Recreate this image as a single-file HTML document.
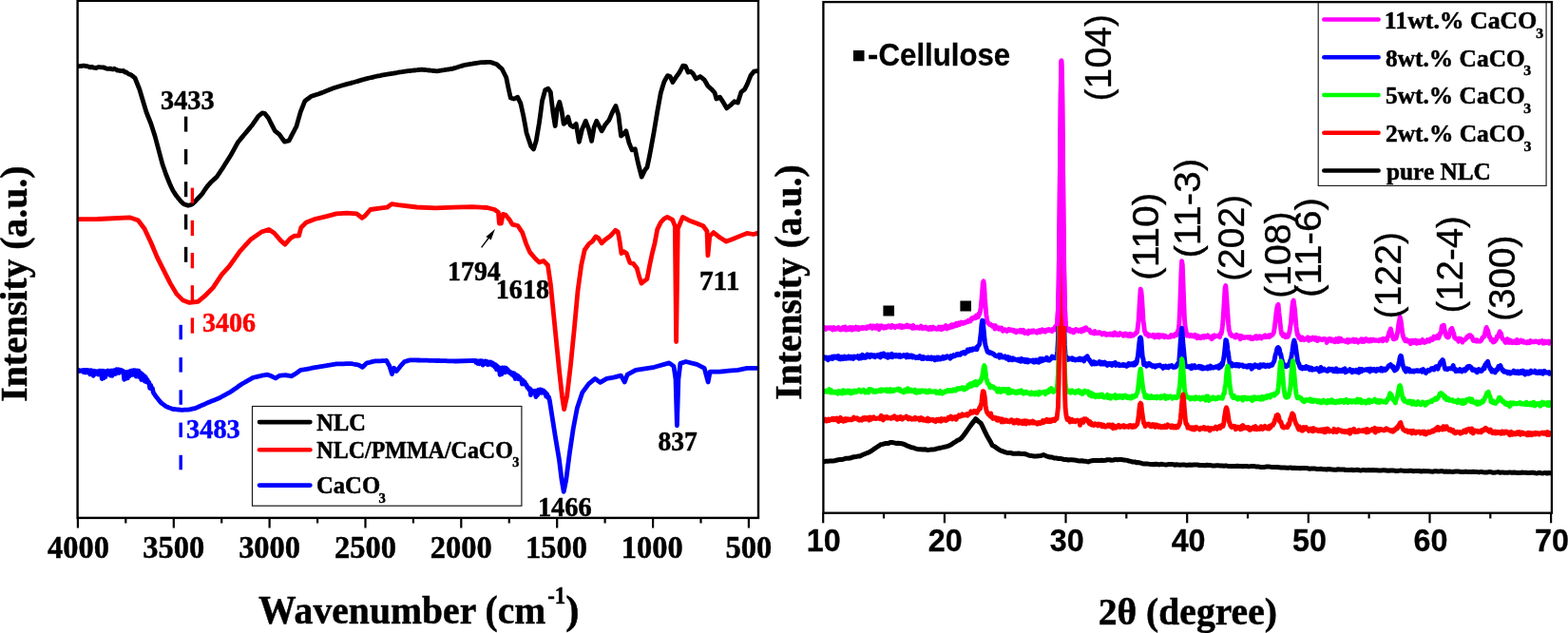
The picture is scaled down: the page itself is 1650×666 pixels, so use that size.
<!DOCTYPE html>
<html><head><meta charset="utf-8"><title>FTIR and XRD</title>
<style>html,body{margin:0;padding:0;background:#fff;}svg{display:block;}</style>
</head><body>
<svg width="1650" height="666" viewBox="0 0 1650 666">
<rect width="1650" height="666" fill="#fff"/>
<defs><clipPath id="cl"><rect x="82" y="1" width="715" height="543"/></clipPath><clipPath id="cr"><rect x="867" y="1" width="765" height="538"/></clipPath><clipPath id="c104"><rect x="1100" y="1" width="35" height="342"/></clipPath></defs>
<g clip-path="url(#cl)" fill="none" stroke-width="4.8" stroke-linejoin="round" stroke-linecap="round">
<polyline stroke="#000" points="83,69.6 84.5,69.7 86,69.5 87.5,69.1 89,69.2 90.5,69.6 92,69.7 93.6,70.4 95.2,70.9 96.8,70.3 98.4,71.2 100,71.4 101.6,71.5 103.1,70.7 104.7,70.7 106.3,70.8 107.9,70.8 109.4,71 111,71.7 112.6,72.3 114.1,72.4 115.7,72.1 117.3,72.6 118.9,73 120.4,72.2 122,73.2 123.6,74 125.2,74.2 126.8,74.6 128.4,74.6 130,74.5 131.5,76 133,76 134.5,77.3 136,78.2 137.5,78.5 139,79.6 140.5,80.9 142,82 143.6,86 145.2,90 146.8,94 148.6,100 150.4,106 152.2,112 154,118 155.6,122 157.2,126 158.8,130 160.9,136.5 163,143 165,150.5 167,158 169,165.5 171,173 172.8,178 174.5,183 176.5,188 178.5,193 180.2,196.8 182,200.5 184,203.6 186,206.6 188,209.1 190,211.5 191.8,213.2 193.5,214.8 195,215.3 196.5,215.8 198,216.3 200,215.7 202,215 203.8,213.4 205.5,211.8 207.2,209.9 209,208 211,205.8 213,203.6 214.5,201.3 216,199 217.5,197 219,195 220.5,193.3 222,191.6 223.5,190.3 225,188.9 226.5,187.6 228,186.3 229.5,184 231,181.8 232.5,179.5 234,177.3 235.5,175 237,172.6 238.5,170.2 240,167.8 241.5,165.4 243,163 244.5,160.3 246,157.6 247.5,154.9 249,152.2 250.5,149.5 252,147.7 253.5,145.9 255,144.1 256.5,142.3 258,140.5 259.5,138.7 261,136.9 262.5,135.1 264,133.3 265.5,131.5 267,129.2 268.6,127 270.1,124.8 271.6,122.5 273.8,120.7 276,118.8 278.5,119.3 280.5,121.8 282.5,124.3 284.2,127.7 285.9,131.1 287.6,134.4 289.3,137.8 290.8,138.9 292.3,140.1 293.8,141.2 295.7,143.8 297.5,146.5 299.4,149.1 300.9,148.7 302.5,148.4 304,148 305.6,145.1 307.1,142.1 308.7,139.2 310.2,136.2 311.8,133.3 313.3,128.1 314.8,122.8 316.3,117.6 317.8,113.8 319.3,110.1 320.8,106.3 322.5,105 324.2,103.8 325.9,102.5 327.6,101.3 329.2,100.8 330.8,100.2 332.4,99.7 334,99.2 335.6,98.7 337.2,98.1 338.8,97.6 340.4,96.9 342,96.3 343.6,95.6 345.2,95 346.8,94.3 348.4,93.7 350,93 351.6,92.5 353.2,92 354.8,91.5 356.5,91 358.1,90.5 359.7,90 361.3,89.5 362.9,89.1 364.5,88.6 366.1,88.2 367.8,87.8 369.4,87.4 371,86.9 372.6,86.5 374.2,86 375.8,85.6 377.4,85.1 379.1,84.6 380.7,84.1 382.3,83.7 383.9,83.2 385.5,82.8 387.1,82.4 388.7,82 390.4,81.7 392,81.3 393.6,80.9 395.2,80.5 396.8,80.2 398.4,79.9 400,79.6 401.6,79.2 403.2,78.9 404.8,78.6 406.4,78.3 408,78 409.6,77.8 411.2,77.5 412.9,77.3 414.5,77 416.1,76.8 417.7,76.5 419.4,76.2 421.1,75.9 422.9,75.7 424.6,75.4 426.3,75.1 428,74.8 429.6,74.6 431.2,74.5 432.7,74.3 434.3,74.2 435.9,74 437.5,73.8 439.1,73.7 440.6,73.5 442.2,73.4 443.8,73.2 445.4,73.4 447,73.5 448.5,73.7 450.1,73.8 451.7,74 453.3,74.2 454.9,74.3 456.4,74.5 458,74.6 459.6,74.8 461.2,74.6 462.7,74.3 464.3,74.1 465.9,73.9 467.5,73.7 469,73.4 470.6,73.2 472.2,73 473.7,72.7 475.3,72.5 476.8,72.1 478.3,71.6 479.8,71.2 481.3,70.7 482.8,70.3 484.3,69.8 485.8,69.4 487.3,68.9 488.8,68.5 490.4,68.2 492,68 493.5,67.7 495.1,67.4 496.7,67.2 498.3,66.9 499.9,66.6 501.4,66.3 503,66.1 504.6,65.8 506.2,65.7 507.8,65.7 509.4,65.6 511.1,65.5 512.7,65.4 514.3,65.4 515.9,65.3 517.6,65.9 519.2,66.4 520.9,67 522.6,67.6 524.5,69.2 526.3,70.9 528.2,72.5 529.7,75.5 531.2,78.5 532.7,81.5 535,92.8 537.3,103 539,103.5 540.6,104 542.7,103.2 544.7,102.3 546.2,105.4 547.8,108.6 549.3,115.3 550.8,122 552.5,131 554.1,140 555.6,144.5 557.1,149.1 558.6,153.6 561.5,157 564.2,148.3 565.8,138.9 567.4,129.4 569,117.8 570.5,106.2 572.1,100.5 573.7,94.7 575.2,94 576.8,93.2 579.3,96.8 582,118.9 584.2,132.5 586.3,114.7 588.8,107.3 591.1,116.8 593.2,130.4 595.7,128.3 597.8,123 600,131.5 601.5,132.6 603,133.6 604.6,132 606.2,130.4 607.8,139.9 609.4,149.3 611,142.5 612.6,135.7 614.5,131.5 616.3,127.3 617.9,131.5 619.5,135.7 621,142 622.6,148.3 625.2,133.6 627.7,127.3 630.4,132.5 633.2,137.8 635,134.7 636.7,131.5 638.9,128.8 641,126.2 642.5,122.6 644.1,118.9 646,115.2 647.9,111.5 650.8,121 653.5,143 656.3,140.9 658.8,137.8 660.4,144.1 662,150.4 663.5,154.1 665.1,157.8 666.7,157.2 668.3,156.7 669.8,164.1 671.4,171.4 673.3,178.8 675.2,186.1 677,182.4 678.8,178.8 681,176 682.8,167.4 684.5,158.9 686.3,149 688.1,139.1 689.9,128.3 691.7,117.5 693.5,107.6 695.3,97.7 697.1,91.8 698.9,86 700.7,82.8 702.5,79.6 705.2,80.5 707.9,86.5 710.6,82.3 712.1,80.2 713.6,78.1 715.1,76 716.9,72.6 718.7,69.2 721.4,69.7 724.1,76 726.8,75.1 729.5,77.8 732.3,82.9 733.8,82.1 735.3,81.3 736.8,80.5 738.3,81.7 739.8,82.9 741.3,84.1 743.1,87.3 744.9,90.5 746.7,92.1 748.5,93.7 750.3,95.7 752.1,97.7 753.9,104 755.7,103.1 757.5,102.2 759.3,104.9 761.1,107.6 762.9,110.8 764.7,113.9 766.2,112.7 767.7,111.5 769.2,110.3 771,108.5 772.8,106.7 774.6,107.4 776.4,108.1 778.2,102.4 780,96.8 781.8,95.4 783.6,94 786.3,88.6 788.1,84.1 789.9,79.6 791.7,77.3 793.5,75.1 795.2,74.8 797,74.6"/>
<polyline stroke="#f00" points="83,230.6 102.5,230.5 113.8,230 136.3,228.8 145.3,231.7 152.1,240.7 158.9,255.3 165.6,271.1 172.4,284.6 179.2,298.1 185.9,309.4 192.7,316.1 199.4,318.4 208.4,317.3 215.2,311.7 224.2,302.6 233.2,289.1 241.3,280.1 252.5,264.3 263.8,252 275.1,244.1 283,241.4 288.6,245.2 295.4,253.1 299.9,257.1 305.5,250.8 310,248.1 314.5,248.1 316.8,239.5 322.4,233.9 331.4,230.5 342.7,227.8 353.9,224.9 365.2,224.2 375.4,224.9 381,229.4 383.9,227.3 389.8,220.5 399.5,219.1 407.3,218.2 412.2,214.6 419,215.6 438.6,218 458.1,218.9 477.6,218.2 497.1,217.6 512.7,218.5 520.5,220.5 524.4,223.4 525.4,235.1 527.4,235.1 529.3,225.4 532.3,226.4 536.2,231.2 539.1,236.1 544.9,237.5 549.8,244.9 553.7,256.6 557.6,265.4 563.5,272.2 567.5,276 572,274.5 576.5,279 579.5,300 582.5,330 585.5,360 588.5,390 591.5,417 593.6,430.7 596.6,417 600.5,384 604.4,345 608,306 611.7,279 615.2,263 619.7,256.7 623.3,254 626.9,249 629.6,250.4 633.2,255.8 636.8,252.2 642.2,248.3 647.6,242.3 650.3,244.1 652.1,254 653.9,266.6 656.6,264.8 659.3,266.6 662.9,276.5 666.5,277.4 670.1,281.9 672.8,291.8 675,298.1 678.2,295.4 680.9,293.6 683.6,279.2 686.3,266.6 689,255.8 691.7,241.4 695.4,233.8 698.9,230.2 702.2,228.4 707.6,231.1 710.3,237.8 711.6,359.5 713.3,240.5 718.4,228.4 725.1,231.9 733.2,235.1 740,237.8 744,243.2 744.9,268.9 746.8,248.6 750.8,244.6 757.6,250 764.3,254.1 771.1,251.4 779.2,248.1 786,245.4 792.7,246.5 797,245.4"/>
<polyline stroke="#00f" points="83,389.5 83.9,390.5 84.8,389.9 85.7,390.2 86.6,389.8 87.5,391.3 88.4,389.4 89.3,391.9 90.2,389.4 91.1,391.8 92,389.5 92.9,390.7 93.8,389.9 94.7,393.8 95.6,389.7 96.5,392 97.4,390.3 98.3,395.4 99.2,390.3 100.1,393.7 101,390.8 101.9,391.3 102.8,390.7 103.7,394 104.6,390.1 105.5,392.7 106.4,390.3 107.3,398.6 108.2,390.2 109.1,397.8 110,390.7 110.9,396.6 111.8,390.6 112.7,392.3 113.6,390 114.5,393.8 115.4,390.5 116.3,395.1 117.2,390 118.1,395.4 119,389.8 119.9,392.7 120.8,389.7 121.7,393.4 122.6,388.8 123.5,391.8 124.4,388.8 125.3,392.4 126.2,389.1 127.1,390.8 128,389.6 128.9,391.4 129.8,390.6 130.7,399.3 131.6,391.9 132.5,398.3 133.4,391.4 134.3,397.9 135.2,391.3 136.1,395.8 137,390.5 137.9,393.1 138.8,390 139.7,394.4 140.6,389.6 141.5,393.5 142.4,389.8 143.3,396.2 144.2,390 145.1,395.6 146,390.2 146.9,396.8 147.8,392.1 148.7,399.5 149.6,393.6 150.5,397.3 151.4,395.1 152.3,401.1 153.2,396.7 154.1,401.9 155,399.4 155.9,402.6 156.8,402.2 157.7,408.3 158.6,405.2 159.5,408.8 160.4,408.4 161.3,412.9 163.8,416.8 165.6,419 167.4,421.3 169.2,423.5 171,424.9 172.8,426.2 174.6,427.6 176.3,428.3 178,429 179.7,429.6 181.4,430.3 183,430.5 184.5,430.7 186.1,430.9 187.7,431 189.2,431.2 190.8,431.4 192.4,431.3 194,431.2 195.7,431.2 197.3,431.1 198.9,431 200.7,430.6 202.4,430.2 204.2,429.8 206,429.4 207.5,428.7 209,428 210.5,427.3 212.1,426.6 213.6,426 215.1,425.3 216.6,424.6 218.1,423.9 219.6,423.3 221.1,422.7 222.6,422.1 224.1,421.5 225.6,420.9 227.1,420.3 228.6,419.7 230.1,419.1 231.6,418.3 233.1,417.5 234.6,416.7 236.1,415.9 237.7,415 239.2,414.2 240.7,413.4 242.2,412.6 243.7,411.6 245.2,410.5 246.7,409.4 248.2,408.4 249.7,407.4 251.2,406.3 252.7,405.2 254.2,404.2 255.7,403.3 257.2,402.5 258.7,401.6 260.2,400.8 261.7,399.9 263.2,399.1 264.7,398.2 266.2,397.4 267.7,397 269.2,396.7 270.8,396.3 272.3,395.9 273.8,395.6 275.3,395.2 276.9,394.9 278.5,394.7 280,394.4 281.6,394.2 283.7,395 285.8,395.8 287.9,396.9 290,397.9 292.1,396.5 294.2,395.2 295.8,395.1 297.4,394.9 298.9,394.8 300.5,394.7 302.1,395 303.6,395.2 305.2,395.5 306.8,395.8 308.5,394.7 310.3,393.7 312,392.6 314.1,391 316.3,389.4 317.9,389.1 319.5,388.9 321,388.6 322.6,388.4 324.1,388.1 325.6,387.8 327.1,387.5 328.6,387.2 330.1,386.9 331.6,386.6 333.1,386.3 334.6,386.1 336.1,385.8 337.6,385.6 339.1,385.4 340.6,385.2 342.1,384.9 343.6,384.7 345.1,384.4 346.6,384.2 348.1,383.9 349.6,383.7 351.1,383.4 352.6,383.2 354.1,382.9 355.7,382.9 357.3,382.8 358.8,382.8 360.4,382.8 362,382.8 363.6,382.7 365.2,382.7 366.7,382.7 368.3,382.6 369.9,382.6 371.8,383 373.6,383.3 375.4,383.6 377.3,384 379.4,385.1 381.5,386.3 383.6,384.2 385.7,382.1 387.4,381.7 389.1,381.3 390.7,380.8 392.4,380.4 394.1,380 395.7,379.9 397.2,379.9 398.8,379.8 400.4,379.8 402,379.7 403.6,379.6 405.1,379.6 406.7,379.5 408.3,382.4 409.9,385.2 412.5,393.6 414.6,387.3 417.2,390.5 419.3,387.9 421.4,385.2 423.5,382.9 425.6,380.5 427.2,380.1 428.8,379.6 430.4,379.2 432,378.8 433.5,378.8 435,378.9 436.5,378.9 438,378.9 439.5,379 441,379 442.5,379.1 444,379.1 445.5,379.1 447,379.2 448.5,379.2 450,379.2 451.5,379.3 453,379.3 454.5,379.4 456,379.4 457.5,379.4 459,379.5 460.5,379.5 462,379.5 463.5,379.6 465,379.6 466.5,379.7 468,379.7 469.5,379.7 471,379.8 472.5,379.8 474,379.9 475.5,379.9 477,379.9 478.5,380 480,380 500,379.3 500.9,381.3 501.8,379.8 502.7,382.4 503.6,380.1 504.5,382.7 505.4,379.6 506.3,381.9 507.2,379.8 508.1,384.1 509,380.5 509.9,381.7 510.8,379.9 511.7,382.7 512.6,380.4 513.5,383.8 514.4,381.1 515.3,382.8 516.2,380.9 517.1,383.6 518,381.7 518.9,384.5 519.8,382.8 520.7,386.2 521.6,383.7 522.5,388.7 523.4,385.4 524.3,387.1 525.2,386.9 526.1,394.3 527,387.2 527.9,393.7 528.8,387 529.7,391.1 530.6,386.9 531.5,391.8 532.4,387.1 533.3,388.8 534.2,388.7 535.1,391.5 536,390.8 536.9,392.7 537.8,391.8 538.7,394.1 539.6,392.4 540.5,395.7 541.4,393 542.3,398.5 543.2,394.6 544.1,396.6 545,395.4 545.9,398.9 546.8,396.9 547.7,399.1 548.6,398.9 549.5,404 550.4,400.4 551.3,404 552.2,402 553.1,404.6 554,404.8 554.9,407.7 555.8,407.6 556.7,409.7 557.6,408.7 558.5,415.6 559.4,410.6 560.3,413.2 561.2,411.6 562.1,412 563,411.2 563.9,417.5 564.8,411.1 565.7,415.7 566.6,410.2 567.5,413.1 568.4,409.9 569.3,413.2 570.2,410.2 571.1,413.3 572,410.9 572.9,412.9 573.8,412.7 574.7,417.1 575.6,414.6 576.5,418.3 577.4,417.6 578.3,420.8 584.3,459.2 588.4,483.5 591.1,505.1 593.2,517.3 595.7,505.1 599.2,478.1 603.2,451.1 607.3,429.5 612.7,413.2 619.5,403.8 626.2,398.4 631.6,402.4 638.4,398.4 645.6,397.1 653.4,395.1 657.3,402 660.2,394.2 669,389.3 688.5,386.3 704.2,381.9 709,385.4 711,399 712.4,447.8 713.9,399 715.9,382.4 721.7,380.5 733.4,383.4 741.2,387.3 745.1,402 747.1,391.2 756.9,391.2 766.6,390.2 776.4,389.3 786.1,387.3 797,387.3"/>
</g>
<g stroke="#000" stroke-width="3.4"><line x1="195.6" y1="122.6" x2="195.6" y2="138.6"/><line x1="195.6" y1="156.9" x2="195.6" y2="172.9"/><line x1="195.6" y1="191.2" x2="195.6" y2="207.2"/><line x1="195.6" y1="225.5" x2="195.6" y2="241.5"/><line x1="195.6" y1="259.8" x2="195.6" y2="275.8"/></g>
<g stroke="#f00" stroke-width="3.4"><line x1="202.4" y1="197.6" x2="202.4" y2="213.9"/><line x1="202.4" y1="231.8" x2="202.4" y2="248.1"/><line x1="202.4" y1="266" x2="202.4" y2="282.3"/><line x1="202.4" y1="300.2" x2="202.4" y2="316.5"/><line x1="202.4" y1="334.4" x2="202.4" y2="350.7"/></g>
<g stroke="#00f" stroke-width="3.4"><line x1="190.2" y1="341.8" x2="190.2" y2="357.3"/><line x1="190.2" y1="376.1" x2="190.2" y2="391.6"/><line x1="190.2" y1="410.3" x2="190.2" y2="425.8"/><line x1="190.2" y1="444.6" x2="190.2" y2="460.1"/><line x1="190.2" y1="478.8" x2="190.2" y2="494.3"/></g>
<line x1="506.6" y1="260.4" x2="514.5" y2="250" stroke="#000" stroke-width="1.4"/>
<polygon points="520.9,240.9 511.3,249.3 513.8,250.2 516.7,252.6" fill="#000"/>
<rect x="265.5" y="427.5" width="283.4" height="104.7" fill="#fff" stroke="#1a1a1a" stroke-width="1.2"/>
<g stroke-width="4.6" stroke-linecap="round"><line x1="273" y1="444.1" x2="326.4" y2="444.1" stroke="#000"/><line x1="273" y1="473.3" x2="326.4" y2="473.3" stroke="#f00"/><line x1="273" y1="510.6" x2="326.4" y2="510.6" stroke="#00f"/></g>
<rect x="81.6" y="0.8" width="716.4" height="544.1" fill="none" stroke="#000" stroke-width="2.4"/>
<g stroke="#000" stroke-width="2.2"><line x1="81.9" y1="545" x2="81.9" y2="555.5"/><line x1="182.8" y1="545" x2="182.8" y2="555.5"/><line x1="283.6" y1="545" x2="283.6" y2="555.5"/><line x1="384.5" y1="545" x2="384.5" y2="555.5"/><line x1="485.3" y1="545" x2="485.3" y2="555.5"/><line x1="586.2" y1="545" x2="586.2" y2="555.5"/><line x1="687.1" y1="545" x2="687.1" y2="555.5"/><line x1="787.9" y1="545" x2="787.9" y2="555.5"/><line x1="132.3" y1="545" x2="132.3" y2="550.5"/><line x1="233.2" y1="545" x2="233.2" y2="550.5"/><line x1="334.1" y1="545" x2="334.1" y2="550.5"/><line x1="434.9" y1="545" x2="434.9" y2="550.5"/><line x1="535.8" y1="545" x2="535.8" y2="550.5"/><line x1="636.6" y1="545" x2="636.6" y2="550.5"/><line x1="737.5" y1="545" x2="737.5" y2="550.5"/></g>
<g clip-path="url(#cr)" fill="none" stroke-width="4.9" stroke-linejoin="round" stroke-linecap="round">
<polyline stroke="#f0f" points="867,344.3 867.7,345.1 868.4,345.2 869.1,346.4 869.8,344.7 870.5,345 871.2,345 871.9,344.7 872.6,345.3 873.3,345.6 874,344.7 874.7,344.8 875.4,345.6 876.1,347 876.8,345.7 877.5,344.5 878.2,345.9 878.9,346.4 879.6,345.9 880.3,345.8 881,345.1 881.7,345.7 882.4,344.5 883.1,345.9 883.8,346.7 884.5,345.8 885.2,346.8 885.9,346.2 886.6,345.7 887.3,344.4 888,346.5 888.7,345.9 889.4,343.9 890.1,347 890.8,346.6 891.5,346.8 892.2,346.9 892.9,345.3 893.6,345.6 894.3,344.7 895,346.3 895.7,345.1 896.4,347.1 897.1,344.6 897.8,345.9 898.5,346.4 899.2,345.3 899.9,344.9 900.6,344.1 901.3,346.2 902,345.9 902.7,346.5 903.4,344.6 904.1,346.4 904.8,345.4 905.5,345.6 906.2,345.2 906.9,344.4 907.6,344.5 908.3,345.7 909,344.4 909.7,344.7 910.4,344.7 911.1,344.9 911.8,345.7 912.5,343.8 913.2,344.8 913.9,344 914.6,344.4 915.3,343.8 916,342.9 916.7,343.9 917.4,343 918.1,345.5 918.8,342.9 919.5,343.6 920.2,344.3 920.9,343.7 921.6,345.2 922.3,343.9 923,342.6 923.7,344.9 924.4,343.6 925.1,346.6 925.8,343 926.5,343.4 927.2,343.8 927.9,342.8 928.6,344.4 929.3,345 930,345.2 930.7,344.1 931.4,343.6 932.1,344.9 932.8,344.7 933.5,343.4 934.2,343.1 934.9,342.8 935.6,343.7 936.3,343.4 937,344.1 937.7,344.4 938.4,342.4 939.1,343.8 939.8,343.7 940.5,343 941.2,343.5 941.9,344.6 942.6,343.4 943.3,343.4 944,343.1 944.7,343.7 945.4,343 946.1,343.9 946.8,342.4 947.5,342.8 948.2,343.8 948.9,344.6 949.6,342.9 950.3,343.5 951,344.1 951.7,343.2 952.4,343.7 953.1,343.8 953.8,342.3 954.5,342.1 955.2,343.7 955.9,342.7 956.6,343.7 957.3,344 958,343.2 958.7,343.1 959.4,343.4 960.1,345.3 960.8,342.4 961.5,345.2 962.2,344.5 962.9,344 963.6,345 964.3,344.7 965,344.1 965.7,344.8 966.4,345.1 967.1,345.4 967.8,345.1 968.5,345 969.2,343.1 969.9,344.5 970.6,345.6 971.3,345.7 972,344.4 972.7,344.6 973.4,344.2 974.1,344 974.8,345.7 975.5,346 976.2,345.3 976.9,345.7 977.6,346.6 978.3,344.4 979,345.4 979.7,345.4 980.4,346.3 981.1,344.3 981.8,344.1 982.5,345.8 983.2,344.9 983.9,345.7 984.6,346 985.3,345.9 986,346.3 986.7,345.7 987.4,345.5 988.1,344.1 988.8,346.3 989.5,344.3 990.2,345.4 990.9,346.6 991.6,344 992.3,346 993,344.5 993.7,344.9 994.4,343.3 995.1,342.7 995.8,344.7 996.5,345.9 997.2,344.5 997.9,343.7 998.6,343.5 999.3,344.7 1000,344.4 1000.7,342.3 1001.4,341.8 1002.1,344.1 1002.8,342 1003.5,342.8 1004.2,343.1 1004.9,341.2 1005.6,341.3 1006.3,340.3 1007,342.4 1007.7,341.1 1008.4,341.8 1009.1,339.8 1009.8,341.4 1010.5,339.8 1011.2,340.2 1011.9,339.1 1012.6,339.8 1013.3,340.4 1014,339.4 1014.7,339.2 1015.4,339.7 1016.1,338.8 1016.8,339.1 1017.5,338.4 1018.2,338.8 1018.9,337.3 1019.6,337.5 1020.3,337.2 1021,338 1021.7,336.7 1022.4,335 1023.1,334.6 1023.8,335.2 1024.5,334.5 1025.2,333.8 1025.9,333.8 1026.6,334.6 1027.3,332.1 1028,333.5 1028.7,332.6 1029.4,333.6 1030.1,330 1030.8,330.5 1031.5,327.6 1032.2,323.3 1032.9,315.8 1033.6,307.1 1034.3,297.3 1035,295.9 1035.7,301.2 1036.4,314 1037.1,322.5 1037.8,330.8 1038.5,335.7 1039.2,339.1 1039.9,340.3 1040.6,340.4 1041.3,341.5 1042,341.1 1042.7,341.8 1043.4,342.1 1044.1,343.3 1044.8,342.7 1045.5,342.5 1046.2,342.7 1046.9,346.1 1047.6,342.7 1048.3,344.7 1049,345 1049.7,345.3 1050.4,344.9 1051.1,346.3 1051.8,346 1052.5,345.2 1053.2,345.8 1053.9,345.1 1054.6,346.7 1055.3,348.2 1056,347.9 1056.7,347.5 1057.4,346.7 1058.1,346.9 1058.8,347.4 1059.5,348.5 1060.2,347.2 1060.9,347.2 1061.6,346.3 1062.3,347.5 1063,347.7 1063.7,347.1 1064.4,346.9 1065.1,347.8 1065.8,348.2 1066.5,347.4 1067.2,348.8 1067.9,347.9 1068.6,348.6 1069.3,349.7 1070,348 1070.7,348.5 1071.4,348.3 1072.1,348.3 1072.8,348.9 1073.5,347.3 1074.2,349 1074.9,347.5 1075.6,348.2 1076.3,349.5 1077,347.3 1077.7,350 1078.4,350.5 1079.1,349.8 1079.8,349.5 1080.5,349 1081.2,348.8 1081.9,350.9 1082.6,348.1 1083.3,349 1084,349.6 1084.7,348.7 1085.4,348.1 1086.1,349.4 1086.8,349.2 1087.5,347.7 1088.2,348.8 1088.9,348.6 1089.6,349.1 1090.3,349.8 1091,350.1 1091.7,348.3 1092.4,349.3 1093.1,348.6 1093.8,347.6 1094.5,349.5 1095.2,348.4 1095.9,348.4 1096.6,346.7 1097.3,348.8 1098,348.2 1098.7,348.6 1099.4,347.5 1100.1,349.1 1100.8,347.9 1101.5,347 1102.2,347.7 1102.9,347.7 1103.6,346.5 1104.3,347.8 1105,347 1105.7,347.2 1106.4,347.4 1107.1,348.7 1107.8,346.3 1108.5,345.8 1109.2,346.5 1109.9,345.9 1110.6,343.8 1111.3,346.9 1112,344.2 1112.7,338 1113.4,326.5 1114.1,298.5 1114.8,245.1 1115.5,171.4 1116.2,99.7 1116.9,64 1117.6,85.1 1118.3,150.2 1119,226.9 1119.7,285.4 1120.4,320.9 1121.1,338.5 1121.8,344.2 1122.5,346.9 1123.2,346.8 1123.9,347.3 1124.6,347.9 1125.3,346.1 1126,347.1 1126.7,348.7 1127.4,348.3 1128.1,347.4 1128.8,348.5 1129.5,349.8 1130.2,349.5 1130.9,347.3 1131.6,347.8 1132.3,346.6 1133,347.7 1133.7,347.1 1134.4,347.5 1135.1,348.4 1135.8,348 1136.5,348 1137.2,346.9 1137.9,348.9 1138.6,347.7 1139.3,346.4 1140,347.3 1140.7,347.8 1141.4,345.2 1142.1,346.4 1142.8,344.8 1143.5,346.8 1144.2,347 1144.9,346.9 1145.6,346.9 1146.3,347.1 1147,348.1 1147.7,350 1148.4,350 1149.1,349.9 1149.8,349.7 1150.5,350.2 1151.2,350.8 1151.9,348.4 1152.6,350.1 1153.3,350.6 1154,349.7 1154.7,350.2 1155.4,350.6 1156.1,349.8 1156.8,349.8 1157.5,349.7 1158.2,350.2 1158.9,351 1159.6,351.8 1160.3,351 1161,350.9 1161.7,350.5 1162.4,351.4 1163.1,351 1163.8,352.3 1164.5,351.4 1165.2,352.3 1165.9,351.9 1166.6,351.6 1167.3,351.8 1168,351 1168.7,352.3 1169.4,351.6 1170.1,351.1 1170.8,351.9 1171.5,352.6 1172.2,351.9 1172.9,349.9 1173.6,351.4 1174.3,352 1175,352.4 1175.7,351.3 1176.4,352.2 1177.1,352.6 1177.8,352.4 1178.5,350.6 1179.2,351.5 1179.9,351.5 1180.6,351.7 1181.3,352 1182,353.1 1182.7,352.1 1183.4,351.2 1184.1,351 1184.8,352.7 1185.5,351.4 1186.2,352 1186.9,353.4 1187.6,353.5 1188.3,353.5 1189,351.2 1189.7,353.7 1190.4,352.2 1191.1,353.1 1191.8,352.1 1192.5,353 1193.2,351.9 1193.9,351.8 1194.6,351.4 1195.3,350.3 1196,350.2 1196.7,349 1197.4,343.4 1198.1,337.4 1198.8,325.9 1199.5,313.8 1200.2,304.3 1200.9,306.5 1201.6,313.4 1202.3,325 1203,337 1203.7,342 1204.4,348.1 1205.1,349.7 1205.8,351.8 1206.5,350.6 1207.2,352.2 1207.9,352.3 1208.6,353.7 1209.3,352.2 1210,352.7 1210.7,353.2 1211.4,353.3 1212.1,353.5 1212.8,353.2 1213.5,352.3 1214.2,354.3 1214.9,354.9 1215.6,353.5 1216.3,352.9 1217,354.4 1217.7,352.7 1218.4,353.8 1219.1,352.3 1219.8,354.9 1220.5,352.7 1221.2,354.1 1221.9,353.3 1222.6,353.5 1223.3,352.9 1224,353.9 1224.7,353 1225.4,354.8 1226.1,353.2 1226.8,353.9 1227.5,354.6 1228.2,354.6 1228.9,354.7 1229.6,354.8 1230.3,354.2 1231,354.4 1231.7,354.6 1232.4,352.5 1233.1,353.6 1233.8,353.6 1234.5,353.3 1235.2,353.8 1235.9,352.2 1236.6,351.6 1237.3,352 1238,352.6 1238.7,350.7 1239.4,348 1240.1,347.9 1240.8,341 1241.5,327.9 1242.2,308.7 1242.9,288.3 1243.6,274.6 1244.3,278.6 1245,297.7 1245.7,317 1246.4,334.6 1247.1,343.3 1247.8,346.6 1248.5,350.9 1249.2,353.2 1249.9,352.6 1250.6,352.1 1251.3,352.4 1252,353.7 1252.7,352.7 1253.4,352.4 1254.1,353.7 1254.8,353.7 1255.5,353.1 1256.2,352.9 1256.9,354.2 1257.6,352.4 1258.3,353.5 1259,353.6 1259.7,355.8 1260.4,353.3 1261.1,354.8 1261.8,354.1 1262.5,355.4 1263.2,355.7 1263.9,354.2 1264.6,354.6 1265.3,353.7 1266,354.2 1266.7,355.2 1267.4,353.5 1268.1,353.9 1268.8,354.7 1269.5,354.4 1270.2,354.4 1270.9,352.8 1271.6,354.4 1272.3,354.7 1273,354.7 1273.7,354.9 1274.4,355.5 1275.1,356.7 1275.8,353.8 1276.5,353.9 1277.2,355.2 1277.9,352.8 1278.6,353.8 1279.3,353.9 1280,353.6 1280.7,353.5 1281.4,353.2 1282.1,353.3 1282.8,354.1 1283.5,354.7 1284.2,351.2 1284.9,351.7 1285.6,349.1 1286.3,344 1287,337.3 1287.7,325.3 1288.4,314.1 1289.1,303 1289.8,300.5 1290.5,309.5 1291.2,319.8 1291.9,330.1 1292.6,340.4 1293.3,347.3 1294,349.3 1294.7,352.1 1295.4,351.5 1296.1,353.6 1296.8,353.6 1297.5,353.4 1298.2,353.4 1298.9,353.7 1299.6,355 1300.3,355 1301,352.2 1301.7,353.2 1302.4,354 1303.1,354.3 1303.8,353.4 1304.5,355.1 1305.2,356.8 1305.9,353.5 1306.6,353.6 1307.3,354.7 1308,355.6 1308.7,355.4 1309.4,354.8 1310.1,355.2 1310.8,354.9 1311.5,354.8 1312.2,354.7 1312.9,354.5 1313.6,355.3 1314.3,354.9 1315,355.3 1315.7,354.7 1316.4,356.5 1317.1,355.3 1317.8,355.2 1318.5,356.6 1319.2,355.3 1319.9,355.5 1320.6,355.4 1321.3,353.7 1322,355.9 1322.7,353.8 1323.4,356 1324.1,355.5 1324.8,354.6 1325.5,353.8 1326.2,355.3 1326.9,354.3 1327.6,355.9 1328.3,354.2 1329,354.6 1329.7,354.4 1330.4,353.3 1331.1,352.9 1331.8,354.8 1332.5,354.4 1333.2,353.9 1333.9,353.3 1334.6,354.4 1335.3,352.8 1336,354.4 1336.7,353.8 1337.4,352.5 1338.1,352.7 1338.8,352.5 1339.5,351.4 1340.2,350.4 1340.9,346.5 1341.6,342 1342.3,335.7 1343,329 1343.7,324.2 1344.4,321.3 1345.1,320.4 1345.8,328.3 1346.5,333.8 1347.2,341.4 1347.9,346.8 1348.6,351.3 1349.3,351.7 1350,353.4 1350.7,352.8 1351.4,351.9 1352.1,352.5 1352.8,354.7 1353.5,353 1354.2,353.6 1354.9,354.5 1355.6,353.7 1356.3,351.1 1357,348.7 1357.7,343.9 1358.4,340.2 1359.1,330.2 1359.8,323.2 1360.5,317.4 1361.2,316.1 1361.9,321.4 1362.6,326.6 1363.3,335.4 1364,343.5 1364.7,348.3 1365.4,352.5 1366.1,352.2 1366.8,355.5 1367.5,354.4 1368.2,355.4 1368.9,357.6 1369.6,356.6 1370.3,355 1371,357.1 1371.7,356.1 1372.4,357.6 1373.1,357.3 1373.8,357 1374.5,356.4 1375.2,357 1375.9,354.9 1376.6,357 1377.3,358.1 1378,356.3 1378.7,355.8 1379.4,356.8 1380.1,357.3 1380.8,356.6 1381.5,355.1 1382.2,356.3 1382.9,356.8 1383.6,357.3 1384.3,355.4 1385,357 1385.7,358.1 1386.4,358.5 1387.1,355.9 1387.8,356 1388.5,356.9 1389.2,356.6 1389.9,356.8 1390.6,357.4 1391.3,357.7 1392,357 1392.7,356.4 1393.4,356.4 1394.1,356.9 1394.8,356.8 1395.5,357.3 1396.2,360.4 1396.9,358.3 1397.6,357.2 1398.3,357.8 1399,356.5 1399.7,356.4 1400.4,358.2 1401.1,358.7 1401.8,357.1 1402.5,358.6 1403.2,358 1403.9,357.8 1404.6,359.6 1405.3,357.7 1406,356.7 1406.7,358 1407.4,357.8 1408.1,359.5 1408.8,356 1409.5,359 1410.2,358.2 1410.9,356.4 1411.6,358.7 1412.3,357.9 1413,358.7 1413.7,358.3 1414.4,358.3 1415.1,358.5 1415.8,359.3 1416.5,358.6 1417.2,359 1417.9,357.6 1418.6,360.2 1419.3,357.7 1420,359.5 1420.7,358.9 1421.4,358 1422.1,358.6 1422.8,359 1423.5,358.1 1424.2,357.1 1424.9,357.7 1425.6,359.5 1426.3,357.9 1427,357.4 1427.7,358.8 1428.4,359.4 1429.1,360.1 1429.8,358.7 1430.5,358.1 1431.2,358.7 1431.9,358.2 1432.6,356.9 1433.3,359.5 1434,359.4 1434.7,357 1435.4,359.4 1436.1,358.4 1436.8,357.6 1437.5,356.6 1438.2,358.1 1438.9,357.8 1439.6,358.7 1440.3,359 1441,359 1441.7,357.2 1442.4,357.3 1443.1,358.8 1443.8,357.7 1444.5,357.2 1445.2,357.3 1445.9,358.2 1446.6,358.3 1447.3,358.3 1448,357.8 1448.7,358.1 1449.4,358.3 1450.1,358.5 1450.8,358.8 1451.5,357.5 1452.2,357.4 1452.9,357.5 1453.6,357.8 1454.3,356.9 1455,358.8 1455.7,356.4 1456.4,357.5 1457.1,356.8 1457.8,356.7 1458.5,357.1 1459.2,358.2 1459.9,355.3 1460.6,354 1461.3,351.9 1462,349 1462.7,349 1463.4,345.9 1464.1,349 1464.8,351.9 1465.5,354.4 1466.2,356.8 1466.9,356.8 1467.6,356 1468.3,356.2 1469,356.1 1469.7,353.5 1470.4,350.6 1471.1,346.8 1471.8,340.7 1472.5,337.6 1473.2,333.4 1473.9,336.4 1474.6,340.3 1475.3,346.9 1476,351.8 1476.7,354.2 1477.4,356.5 1478.1,357.1 1478.8,358.6 1479.5,357 1480.2,358.2 1480.9,359.1 1481.6,358 1482.3,358.9 1483,358.6 1483.7,359.2 1484.4,361.7 1485.1,358.4 1485.8,359 1486.5,358.5 1487.2,358.2 1487.9,360.6 1488.6,360.1 1489.3,359.3 1490,358.2 1490.7,361.3 1491.4,360.5 1492.1,359.1 1492.8,358.7 1493.5,359.4 1494.2,360.8 1494.9,359.1 1495.6,358.6 1496.3,359.1 1497,357.4 1497.7,360 1498.4,359.5 1499.1,360.4 1499.8,359.7 1500.5,359.8 1501.2,359.5 1501.9,357.6 1502.6,358.8 1503.3,358.7 1504,359.1 1504.7,358.3 1505.4,356.6 1506.1,357 1506.8,357 1507.5,357.5 1508.2,355.6 1508.9,354.1 1509.6,354.8 1510.3,354.6 1511,355.9 1511.7,355.2 1512.4,353.3 1513.1,355.2 1513.8,355.6 1514.5,353.8 1515.2,350.9 1515.9,351.2 1516.6,347.6 1517.3,343.2 1518,344 1518.7,342.2 1519.4,342.1 1520.1,347.1 1520.8,349.7 1521.5,352.7 1522.2,354.1 1522.9,353.8 1523.6,355.1 1524.3,354.8 1525,352.6 1525.7,350.5 1526.4,347.1 1527.1,346 1527.8,345.4 1528.5,347.4 1529.2,349.7 1529.9,351.1 1530.6,355.3 1531.3,355.4 1532,356.6 1532.7,356.3 1533.4,357.4 1534.1,357.3 1534.8,359.2 1535.5,356.1 1536.2,356.7 1536.9,357.8 1537.6,356.7 1538.3,357.6 1539,360.1 1539.7,358 1540.4,357.6 1541.1,357.7 1541.8,357.2 1542.5,356.5 1543.2,355.4 1543.9,354.2 1544.6,354.8 1545.3,353.8 1546,352.9 1546.7,353.3 1547.4,352.8 1548.1,353.9 1548.8,354.1 1549.5,356.1 1550.2,358.4 1550.9,358.6 1551.6,357.8 1552.3,357.9 1553,359 1553.7,359.1 1554.4,357.7 1555.1,358.4 1555.8,359 1556.5,359 1557.2,359.1 1557.9,359 1558.6,358.2 1559.3,357 1560,355.3 1560.7,354.7 1561.4,354.4 1562.1,352.8 1562.8,349.7 1563.5,346.5 1564.2,344.4 1564.9,347.3 1565.6,347.4 1566.3,350.5 1567,354.4 1567.7,354.3 1568.4,355.9 1569.1,357.8 1569.8,357.2 1570.5,358.8 1571.2,359.8 1571.9,358 1572.6,359.6 1573.3,357.2 1574,357.9 1574.7,356.9 1575.4,353.8 1576.1,354.3 1576.8,353.3 1577.5,350.6 1578.2,348.8 1578.9,350.8 1579.6,350.9 1580.3,354.4 1581,356.2 1581.7,357.1 1582.4,357.4 1583.1,358.1 1583.8,359.9 1584.5,360.4 1585.2,359 1585.9,356.7 1586.6,357.7 1587.3,357.7 1588,360.4 1588.7,357.8 1589.4,360.3 1590.1,359.4 1590.8,359 1591.5,360.6 1592.2,359.1 1592.9,360.4 1593.6,360.5 1594.3,358.9 1595,359.5 1595.7,360.6 1596.4,357.5 1597.1,360.5 1597.8,359.5 1598.5,360.4 1599.2,359.5 1599.9,359.4 1600.6,358 1601.3,358.6 1602,359.2 1602.7,359.9 1603.4,358.9 1604.1,360.3 1604.8,360.4 1605.5,360.5 1606.2,360.7 1606.9,360.8 1607.6,359.6 1608.3,360.7 1609,360.3 1609.7,360.6 1610.4,358.6 1611.1,359.7 1611.8,359.3 1612.5,359.4 1613.2,359.8 1613.9,359.6 1614.6,359.8 1615.3,359.1 1616,358.9 1616.7,359.6 1617.4,359.2 1618.1,360.1 1618.8,360 1619.5,360.6 1620.2,359 1620.9,359.8 1621.6,359.7 1622.3,359.8 1623,358.7 1623.7,361.2 1624.4,359.9 1625.1,360.9 1625.8,359 1626.5,359.7 1627.2,360.4 1627.9,359.6 1628.6,359.7 1629.3,359.1 1630,361.3 1630.7,360.3 1631.4,359.3"/>
<polyline stroke="#00f" points="867,376.6 867.7,375.8 868.4,377.1 869.1,376.5 869.8,376.1 870.5,376.9 871.2,378.7 871.9,376.5 872.6,376 873.3,376.1 874,377.2 874.7,375.9 875.4,375.4 876.1,377.5 876.8,375.1 877.5,375 878.2,376.3 878.9,376.4 879.6,375 880.3,374.9 881,376.7 881.7,376 882.4,374.6 883.1,377.8 883.8,377.8 884.5,378 885.2,376.5 885.9,375.6 886.6,376 887.3,377.6 888,376.2 888.7,375.1 889.4,377.3 890.1,377.4 890.8,375.6 891.5,375.7 892.2,377 892.9,374.9 893.6,376.6 894.3,376 895,377 895.7,375.3 896.4,375.7 897.1,375.3 897.8,377.4 898.5,376.5 899.2,375 899.9,375.3 900.6,376 901.3,375.5 902,376.1 902.7,374.6 903.4,375 904.1,377.2 904.8,376.5 905.5,374.6 906.2,376.9 906.9,376.5 907.6,373.3 908.3,375.5 909,376.1 909.7,375.2 910.4,375 911.1,376.1 911.8,375.3 912.5,372.9 913.2,374.9 913.9,375 914.6,373.7 915.3,375.8 916,374.7 916.7,373.3 917.4,374.4 918.1,373.9 918.8,375 919.5,373.7 920.2,373.9 920.9,375.7 921.6,373.9 922.3,373.9 923,374.3 923.7,373.7 924.4,374.9 925.1,373.2 925.8,373.8 926.5,375.9 927.2,372.6 927.9,373.2 928.6,374.3 929.3,372 930,372 930.7,373.5 931.4,375 932.1,374.3 932.8,373.6 933.5,373 934.2,376.3 934.9,374.5 935.6,373.1 936.3,375.5 937,375.2 937.7,373.3 938.4,372.4 939.1,375.8 939.8,373.8 940.5,373.5 941.2,374.2 941.9,373.7 942.6,375 943.3,373.4 944,374 944.7,374.6 945.4,375.2 946.1,373.4 946.8,373.6 947.5,375.4 948.2,374.1 948.9,375.1 949.6,374.5 950.3,374.4 951,373.5 951.7,374.3 952.4,374.2 953.1,373.8 953.8,376 954.5,373.2 955.2,373.7 955.9,374.8 956.6,375.6 957.3,374 958,374.5 958.7,374.1 959.4,374 960.1,376.1 960.8,375 961.5,374.7 962.2,375.4 962.9,376.1 963.6,376.6 964.3,375.7 965,375.7 965.7,376 966.4,376.6 967.1,376.2 967.8,374.6 968.5,375.9 969.2,375.6 969.9,377.5 970.6,376.2 971.3,375.5 972,377.5 972.7,375.9 973.4,376.8 974.1,376.4 974.8,376.9 975.5,377.5 976.2,375.9 976.9,376 977.6,377.4 978.3,376.4 979,376.8 979.7,377.6 980.4,375.9 981.1,377.6 981.8,376.5 982.5,376.3 983.2,376.3 983.9,378.8 984.6,377.4 985.3,377.3 986,376.2 986.7,378.2 987.4,375.9 988.1,376.5 988.8,378.1 989.5,378 990.2,376.7 990.9,377.5 991.6,376.5 992.3,375.4 993,377.3 993.7,376.4 994.4,376.9 995.1,376.7 995.8,375.1 996.5,375.9 997.2,374.9 997.9,375.8 998.6,376 999.3,376 1000,377.2 1000.7,374.5 1001.4,375.8 1002.1,375.4 1002.8,375.1 1003.5,373.6 1004.2,374.7 1004.9,374.4 1005.6,373.9 1006.3,373.9 1007,372.5 1007.7,373 1008.4,373.4 1009.1,372.4 1009.8,372.9 1010.5,373.3 1011.2,372.1 1011.9,371.3 1012.6,371.7 1013.3,371 1014,370.4 1014.7,370.4 1015.4,372 1016.1,370.7 1016.8,370.5 1017.5,370.4 1018.2,367.9 1018.9,369.5 1019.6,369.5 1020.3,368.4 1021,367.4 1021.7,368.6 1022.4,367.5 1023.1,368.4 1023.8,366.8 1024.5,367 1025.2,367.6 1025.9,367.4 1026.6,367.2 1027.3,365.8 1028,367.6 1028.7,364.5 1029.4,364.1 1030.1,363.2 1030.8,361.7 1031.5,356.1 1032.2,350.6 1032.9,341.9 1033.6,337.2 1034.3,337.5 1035,345.1 1035.7,353.6 1036.4,359.3 1037.1,364 1037.8,366.1 1038.5,368.2 1039.2,370.3 1039.9,370.7 1040.6,370.9 1041.3,371.5 1042,370.7 1042.7,371.5 1043.4,371.6 1044.1,371.5 1044.8,372.3 1045.5,372.2 1046.2,373.2 1046.9,374.2 1047.6,374.1 1048.3,374.2 1049,374.8 1049.7,374.5 1050.4,374.1 1051.1,373.4 1051.8,376.2 1052.5,375.5 1053.2,373.5 1053.9,375.8 1054.6,375.2 1055.3,375.7 1056,376.1 1056.7,375.4 1057.4,374.9 1058.1,375.7 1058.8,377.1 1059.5,375.7 1060.2,375.4 1060.9,376.7 1061.6,378.6 1062.3,376.2 1063,378.1 1063.7,377.4 1064.4,377.7 1065.1,378.7 1065.8,376.8 1066.5,377.6 1067.2,377.5 1067.9,378.4 1068.6,378.2 1069.3,378.4 1070,379 1070.7,378.2 1071.4,378.6 1072.1,378 1072.8,379.7 1073.5,379.3 1074.2,380.2 1074.9,377.4 1075.6,378.2 1076.3,378.8 1077,379.8 1077.7,378.6 1078.4,378.2 1079.1,380.7 1079.8,379.1 1080.5,379.3 1081.2,378.5 1081.9,381 1082.6,379.8 1083.3,379.2 1084,379.3 1084.7,379.5 1085.4,380 1086.1,379.8 1086.8,379.1 1087.5,381 1088.2,379 1088.9,381 1089.6,380.6 1090.3,378.7 1091,380.7 1091.7,380.1 1092.4,379 1093.1,381.3 1093.8,380.6 1094.5,377.5 1095.2,380.2 1095.9,378.6 1096.6,377.6 1097.3,379.5 1098,377.7 1098.7,378.4 1099.4,378.7 1100.1,378.2 1100.8,377.5 1101.5,376.2 1102.2,378 1102.9,379.1 1103.6,379 1104.3,379.2 1105,378.1 1105.7,377.8 1106.4,376.8 1107.1,375.1 1107.8,376.6 1108.5,376.4 1109.2,376.1 1109.9,376.8 1110.6,376.8 1111.3,375.3 1112,375 1112.7,369.7 1113.4,357.3 1114.1,329.4 1114.8,281.6 1115.5,219.2 1116.2,166.6 1116.9,150.6 1117.6,180.8 1118.3,235.7 1119,297.4 1119.7,338.6 1120.4,362.9 1121.1,372.7 1121.8,375.6 1122.5,376.4 1123.2,377.3 1123.9,378.3 1124.6,376.9 1125.3,378 1126,377.5 1126.7,377.5 1127.4,377.1 1128.1,376.7 1128.8,378.5 1129.5,378.4 1130.2,377.8 1130.9,377.9 1131.6,379 1132.3,378.2 1133,378.4 1133.7,378 1134.4,378.6 1135.1,377.7 1135.8,377.2 1136.5,378.8 1137.2,378.8 1137.9,377.4 1138.6,378.3 1139.3,378.1 1140,377.9 1140.7,379.9 1141.4,376.9 1142.1,376.5 1142.8,376 1143.5,376.1 1144.2,374.7 1144.9,377.4 1145.6,378.4 1146.3,378.3 1147,380 1147.7,380.8 1148.4,381.9 1149.1,383.2 1149.8,381.6 1150.5,380.8 1151.2,380.7 1151.9,383 1152.6,381.3 1153.3,381.9 1154,382.7 1154.7,382.2 1155.4,382.3 1156.1,382.4 1156.8,380.6 1157.5,382.2 1158.2,382.9 1158.9,381.3 1159.6,381.2 1160.3,383 1161,382.3 1161.7,383 1162.4,381 1163.1,382.7 1163.8,382 1164.5,383.5 1165.2,384.4 1165.9,382.6 1166.6,383.8 1167.3,382.2 1168,382.8 1168.7,383.5 1169.4,382.6 1170.1,384.4 1170.8,383.6 1171.5,382.1 1172.2,382.1 1172.9,382.8 1173.6,381.5 1174.3,384.4 1175,383 1175.7,382.9 1176.4,383.4 1177.1,383.1 1177.8,384.6 1178.5,384.7 1179.2,384.2 1179.9,384 1180.6,384.4 1181.3,383.9 1182,383.5 1182.7,384.5 1183.4,383.8 1184.1,384.1 1184.8,385 1185.5,385.4 1186.2,383.7 1186.9,384.6 1187.6,382.4 1188.3,383 1189,384 1189.7,383.1 1190.4,382.7 1191.1,382.8 1191.8,383.9 1192.5,382.2 1193.2,383.9 1193.9,384.1 1194.6,381.3 1195.3,382.8 1196,381.9 1196.7,377.8 1197.4,374.9 1198.1,367.7 1198.8,361.1 1199.5,355.7 1200.2,355 1200.9,357.4 1201.6,367.8 1202.3,375.4 1203,377.7 1203.7,383.6 1204.4,382.3 1205.1,382.2 1205.8,382.6 1206.5,385.2 1207.2,384.6 1207.9,383.6 1208.6,383.8 1209.3,382.4 1210,383.5 1210.7,383.2 1211.4,384.8 1212.1,384.4 1212.8,385.5 1213.5,385 1214.2,384.7 1214.9,385.4 1215.6,386.2 1216.3,384.7 1217,385.2 1217.7,384.7 1218.4,384.5 1219.1,384.4 1219.8,384.8 1220.5,384.2 1221.2,385.2 1221.9,385.1 1222.6,385.8 1223.3,386.3 1224,387.3 1224.7,385.2 1225.4,385.5 1226.1,386.1 1226.8,385.2 1227.5,386.6 1228.2,386.3 1228.9,385.7 1229.6,386.8 1230.3,385.1 1231,385.5 1231.7,385.3 1232.4,385.5 1233.1,384.5 1233.8,385.6 1234.5,386.4 1235.2,386 1235.9,386.4 1236.6,385.8 1237.3,386 1238,384.2 1238.7,384.3 1239.4,382.3 1240.1,383.8 1240.8,379.3 1241.5,370.1 1242.2,359.8 1242.9,350.8 1243.6,345.2 1244.3,351.5 1245,362.3 1245.7,368.9 1246.4,377.1 1247.1,383 1247.8,385.2 1248.5,385.6 1249.2,385.7 1249.9,385.6 1250.6,386 1251.3,385.5 1252,385.8 1252.7,385.8 1253.4,387.7 1254.1,384.7 1254.8,387.3 1255.5,385.2 1256.2,385.3 1256.9,384.7 1257.6,385.8 1258.3,387 1259,386.2 1259.7,386.6 1260.4,385.8 1261.1,386.7 1261.8,385.3 1262.5,386.9 1263.2,386.2 1263.9,385.6 1264.6,387.7 1265.3,388 1266,386.2 1266.7,387.8 1267.4,387 1268.1,387.6 1268.8,387.3 1269.5,386.8 1270.2,386.2 1270.9,387.9 1271.6,386 1272.3,386.6 1273,387.2 1273.7,385 1274.4,387.2 1275.1,386.2 1275.8,386.4 1276.5,387 1277.2,386.6 1277.9,386.7 1278.6,386 1279.3,385.8 1280,386.2 1280.7,386 1281.4,385.4 1282.1,387.2 1282.8,387.3 1283.5,384.3 1284.2,385.1 1284.9,385.8 1285.6,382.3 1286.3,383.9 1287,380.7 1287.7,377.2 1288.4,371.7 1289.1,365.3 1289.8,357.6 1290.5,358.2 1291.2,361.4 1291.9,368.1 1292.6,372.5 1293.3,377.6 1294,381.9 1294.7,383.8 1295.4,385 1296.1,382.4 1296.8,385.1 1297.5,383.7 1298.2,383.8 1298.9,383.7 1299.6,384.5 1300.3,384.9 1301,383.3 1301.7,384.7 1302.4,384.4 1303.1,383.7 1303.8,385.2 1304.5,383.7 1305.2,384.1 1305.9,384.5 1306.6,384.7 1307.3,384 1308,384.4 1308.7,385.8 1309.4,385 1310.1,385.2 1310.8,385 1311.5,385.9 1312.2,386.2 1312.9,385 1313.6,385.9 1314.3,384.6 1315,385.3 1315.7,384.4 1316.4,385 1317.1,388.2 1317.8,384.8 1318.5,386.7 1319.2,385.9 1319.9,385.9 1320.6,383.8 1321.3,385.8 1322,384.3 1322.7,384.9 1323.4,384.8 1324.1,385.1 1324.8,386.9 1325.5,386.8 1326.2,383.7 1326.9,384.9 1327.6,384.4 1328.3,385.2 1329,383.6 1329.7,383.7 1330.4,384.9 1331.1,384.2 1331.8,385.7 1332.5,384.5 1333.2,384.8 1333.9,384.1 1334.6,385.1 1335.3,385.4 1336,384.3 1336.7,383.8 1337.4,384.6 1338.1,383.8 1338.8,384.1 1339.5,382.4 1340.2,381.1 1340.9,379.8 1341.6,375.9 1342.3,372.6 1343,370.8 1343.7,367.3 1344.4,365.9 1345.1,365.5 1345.8,366.3 1346.5,367.9 1347.2,372.9 1347.9,372.8 1348.6,377.1 1349.3,379 1350,383.6 1350.7,382.8 1351.4,383.7 1352.1,384.9 1352.8,385.7 1353.5,385.7 1354.2,384.8 1354.9,384.9 1355.6,383.5 1356.3,384.1 1357,382.6 1357.7,379.1 1358.4,378.3 1359.1,374.1 1359.8,370.1 1360.5,364.8 1361.2,360.2 1361.9,358.1 1362.6,360.8 1363.3,363.4 1364,369.2 1364.7,373.8 1365.4,378.9 1366.1,381.9 1366.8,382.3 1367.5,385.2 1368.2,386.9 1368.9,387.3 1369.6,386.1 1370.3,388 1371,387.6 1371.7,387.5 1372.4,386.5 1373.1,387.5 1373.8,387.7 1374.5,385.6 1375.2,387 1375.9,386.3 1376.6,386.2 1377.3,388.1 1378,388.8 1378.7,388.1 1379.4,387 1380.1,387.3 1380.8,389.2 1381.5,388.3 1382.2,388.8 1382.9,388.3 1383.6,388.7 1384.3,388 1385,388.1 1385.7,387.5 1386.4,388.7 1387.1,388.7 1387.8,389.8 1388.5,390.8 1389.2,389 1389.9,386.4 1390.6,387.8 1391.3,390 1392,389.3 1392.7,388.8 1393.4,388.2 1394.1,389.4 1394.8,389.3 1395.5,390 1396.2,390.2 1396.9,390.5 1397.6,390 1398.3,388.1 1399,389.6 1399.7,388.2 1400.4,388.6 1401.1,388.5 1401.8,388.2 1402.5,388.6 1403.2,390.6 1403.9,389.2 1404.6,390.8 1405.3,389.5 1406,387.8 1406.7,388.8 1407.4,390.9 1408.1,390.4 1408.8,389.3 1409.5,389.3 1410.2,390.6 1410.9,390 1411.6,389.4 1412.3,390.6 1413,389.6 1413.7,388.7 1414.4,388.3 1415.1,387.9 1415.8,391.7 1416.5,389.9 1417.2,391.2 1417.9,389.9 1418.6,389.9 1419.3,390 1420,390 1420.7,388.6 1421.4,389.7 1422.1,390.6 1422.8,391.7 1423.5,389.4 1424.2,390.1 1424.9,390.3 1425.6,391 1426.3,390.1 1427,389.3 1427.7,391.1 1428.4,389.8 1429.1,389.7 1429.8,392.1 1430.5,388.2 1431.2,389.5 1431.9,388.6 1432.6,390.8 1433.3,388.6 1434,389.6 1434.7,389.7 1435.4,389.1 1436.1,389.3 1436.8,389 1437.5,388.7 1438.2,388.5 1438.9,389.4 1439.6,389 1440.3,388.3 1441,388.8 1441.7,391 1442.4,388.1 1443.1,388.7 1443.8,388.6 1444.5,389 1445.2,389.7 1445.9,388.4 1446.6,389.3 1447.3,389.4 1448,390.4 1448.7,388.4 1449.4,388.3 1450.1,389.5 1450.8,388.8 1451.5,388.3 1452.2,388.6 1452.9,389.9 1453.6,387.3 1454.3,388.5 1455,390.1 1455.7,389 1456.4,388 1457.1,388.1 1457.8,389.5 1458.5,388.9 1459.2,387.8 1459.9,387.2 1460.6,385.8 1461.3,384.8 1462,385.2 1462.7,384.5 1463.4,383.5 1464.1,385.1 1464.8,384.9 1465.5,386.9 1466.2,385.7 1466.9,388.8 1467.6,390 1468.3,389.3 1469,388.4 1469.7,388.5 1470.4,387.2 1471.1,385.5 1471.8,382.7 1472.5,379.7 1473.2,375.7 1473.9,374.2 1474.6,374.9 1475.3,379.1 1476,383.2 1476.7,385.7 1477.4,387.5 1478.1,389.5 1478.8,388.2 1479.5,391.1 1480.2,387.7 1480.9,390.2 1481.6,389.8 1482.3,390.1 1483,388.4 1483.7,390.9 1484.4,390.1 1485.1,390 1485.8,390.9 1486.5,390.2 1487.2,390.2 1487.9,390.9 1488.6,390.1 1489.3,390.5 1490,389.9 1490.7,389.8 1491.4,390.3 1492.1,389.8 1492.8,390.6 1493.5,390.2 1494.2,390 1494.9,390.4 1495.6,389.4 1496.3,391.2 1497,391.1 1497.7,388.6 1498.4,390.7 1499.1,390.3 1499.8,391.2 1500.5,392.5 1501.2,390.3 1501.9,390.3 1502.6,389.4 1503.3,390.1 1504,390.2 1504.7,389.5 1505.4,389.1 1506.1,387.8 1506.8,388.4 1507.5,387.4 1508.2,387.6 1508.9,389 1509.6,387.4 1510.3,386.3 1511,385.7 1511.7,385.4 1512.4,386.2 1513.1,388.2 1513.8,385.6 1514.5,384.7 1515.2,382.4 1515.9,381.1 1516.6,380.4 1517.3,379.3 1518,378.5 1518.7,379.5 1519.4,382.9 1520.1,386.3 1520.8,388.4 1521.5,388.3 1522.2,387.8 1522.9,388.7 1523.6,388 1524.3,387.7 1525,387.7 1525.7,387.9 1526.4,387.9 1527.1,387.9 1527.8,387.1 1528.5,386.3 1529.2,384.5 1529.9,388.6 1530.6,388.7 1531.3,388.4 1532,390.7 1532.7,389.1 1533.4,389.8 1534.1,390.3 1534.8,390.2 1535.5,390.2 1536.2,388.5 1536.9,389 1537.6,390.1 1538.3,390.8 1539,390.1 1539.7,389 1540.4,388.7 1541.1,388.5 1541.8,390.1 1542.5,387.7 1543.2,388.6 1543.9,386.2 1544.6,385.6 1545.3,385.4 1546,386.9 1546.7,385.4 1547.4,386.3 1548.1,386.6 1548.8,387.4 1549.5,389.4 1550.2,388.5 1550.9,389.3 1551.6,388.7 1552.3,389.3 1553,390.1 1553.7,391.4 1554.4,391.8 1555.1,389.1 1555.8,390 1556.5,388.6 1557.2,389.9 1557.9,390.2 1558.6,390.6 1559.3,390.3 1560,388.6 1560.7,387.8 1561.4,386.6 1562.1,387.9 1562.8,383.7 1563.5,383.9 1564.2,381.8 1564.9,381.8 1565.6,380.2 1566.3,383.4 1567,385.3 1567.7,386.7 1568.4,388.5 1569.1,388.1 1569.8,391 1570.5,389.2 1571.2,390.2 1571.9,391.2 1572.6,391 1573.3,391.8 1574,390.2 1574.7,388.9 1575.4,389.5 1576.1,388.6 1576.8,385.4 1577.5,386.5 1578.2,386.1 1578.9,384.5 1579.6,387.1 1580.3,387.7 1581,389.7 1581.7,389.3 1582.4,391.2 1583.1,391.4 1583.8,391.1 1584.5,390.8 1585.2,391.1 1585.9,391.9 1586.6,392.6 1587.3,391.2 1588,392.1 1588.7,391.5 1589.4,393.1 1590.1,392.5 1590.8,392.2 1591.5,391.9 1592.2,391 1592.9,390.1 1593.6,392.3 1594.3,390.9 1595,391 1595.7,392.5 1596.4,391.9 1597.1,390.7 1597.8,392.7 1598.5,391.4 1599.2,392.6 1599.9,390.7 1600.6,390.4 1601.3,391.2 1602,392.5 1602.7,390 1603.4,390.8 1604.1,392.7 1604.8,394 1605.5,391.6 1606.2,391 1606.9,391.5 1607.6,391.2 1608.3,393.3 1609,392.5 1609.7,391.1 1610.4,392.6 1611.1,390 1611.8,391.9 1612.5,391.9 1613.2,391.7 1613.9,391.1 1614.6,391.3 1615.3,390.2 1616,392.3 1616.7,391 1617.4,392.4 1618.1,392.6 1618.8,391.3 1619.5,390.8 1620.2,392 1620.9,392.5 1621.6,390.7 1622.3,391.8 1623,391 1623.7,393.2 1624.4,392.2 1625.1,390.4 1625.8,391.4 1626.5,392 1627.2,391.5 1627.9,392 1628.6,392.3 1629.3,392.1 1630,391.5 1630.7,393.2 1631.4,392.7"/>
<polyline stroke="#0f0" points="867,412.1 867.7,412.3 868.4,411.8 869.1,411.1 869.8,412.1 870.5,412.4 871.2,412.1 871.9,411.5 872.6,409.6 873.3,410.8 874,413.1 874.7,410.7 875.4,412.9 876.1,413 876.8,412.3 877.5,412.4 878.2,413.1 878.9,412.3 879.6,412.3 880.3,413.2 881,412.3 881.7,414.2 882.4,411.4 883.1,412 883.8,412.1 884.5,412.5 885.2,411.8 885.9,414.1 886.6,413 887.3,410.7 888,412.4 888.7,413 889.4,413.5 890.1,412.8 890.8,411.7 891.5,413 892.2,411.1 892.9,412.3 893.6,411.1 894.3,413.4 895,412.8 895.7,414 896.4,411.8 897.1,411.9 897.8,411.5 898.5,413 899.2,410.9 899.9,412.5 900.6,411.5 901.3,412.4 902,412 902.7,411 903.4,411.3 904.1,410.1 904.8,410.8 905.5,411 906.2,412.4 906.9,411.1 907.6,411.7 908.3,411.2 909,410.2 909.7,411.9 910.4,413 911.1,411.8 911.8,412.3 912.5,411.7 913.2,412 913.9,413 914.6,409.6 915.3,410.4 916,409.7 916.7,411 917.4,410.6 918.1,410.2 918.8,411.3 919.5,412.5 920.2,412 920.9,412.4 921.6,410.9 922.3,411.1 923,412 923.7,411.6 924.4,411.6 925.1,410.4 925.8,410.2 926.5,410 927.2,411.7 927.9,409.8 928.6,410.7 929.3,410.8 930,410.4 930.7,410.2 931.4,410.8 932.1,409.8 932.8,410.5 933.5,411.6 934.2,409.9 934.9,411.4 935.6,411.5 936.3,411.9 937,409.5 937.7,411.8 938.4,411.2 939.1,411.5 939.8,411.1 940.5,410.1 941.2,411.1 941.9,410.5 942.6,409.9 943.3,409.8 944,410 944.7,410.3 945.4,409 946.1,410.8 946.8,409.2 947.5,411.1 948.2,411.8 948.9,411.7 949.6,412.1 950.3,412 951,412.8 951.7,410.6 952.4,410 953.1,410.6 953.8,409.9 954.5,412 955.2,408.7 955.9,410.9 956.6,411.7 957.3,411.5 958,411.7 958.7,410.1 959.4,410.6 960.1,411 960.8,411.5 961.5,411.7 962.2,412.5 962.9,410.1 963.6,411.5 964.3,413.3 965,412.5 965.7,411.6 966.4,412.2 967.1,411.2 967.8,412.7 968.5,411 969.2,412.3 969.9,411.8 970.6,410.9 971.3,411.8 972,411.6 972.7,411.1 973.4,411.9 974.1,411 974.8,412.8 975.5,412.3 976.2,412.8 976.9,412.6 977.6,412.3 978.3,410.9 979,411.9 979.7,412.2 980.4,411.8 981.1,412.2 981.8,412 982.5,412 983.2,411.7 983.9,412.1 984.6,411.6 985.3,413.5 986,412.9 986.7,413.1 987.4,413.5 988.1,412.5 988.8,413.8 989.5,411.3 990.2,412.4 990.9,412.8 991.6,414.1 992.3,413.5 993,413.1 993.7,412.9 994.4,411.7 995.1,411.9 995.8,411.3 996.5,411.8 997.2,410.5 997.9,411.2 998.6,410.9 999.3,411.7 1000,410.6 1000.7,411.3 1001.4,411.3 1002.1,411.2 1002.8,411.3 1003.5,409.7 1004.2,410.4 1004.9,410.1 1005.6,411 1006.3,409.6 1007,410.1 1007.7,408.5 1008.4,409.3 1009.1,408.8 1009.8,409.3 1010.5,408.6 1011.2,409 1011.9,409.1 1012.6,407.9 1013.3,409.3 1014,407.9 1014.7,410.1 1015.4,409.2 1016.1,408.6 1016.8,407.8 1017.5,408.6 1018.2,407.3 1018.9,405.3 1019.6,407 1020.3,406.3 1021,403.7 1021.7,403.9 1022.4,406.3 1023.1,405.1 1023.8,403.8 1024.5,402.5 1025.2,402.9 1025.9,405 1026.6,401.4 1027.3,403.7 1028,405.1 1028.7,402.9 1029.4,401.7 1030.1,402.7 1030.8,402.4 1031.5,401.8 1032.2,400.6 1032.9,397.7 1033.6,396.4 1034.3,392 1035,387 1035.7,384.6 1036.4,386 1037.1,391.4 1037.8,399.1 1038.5,399.8 1039.2,403.3 1039.9,403.6 1040.6,403.9 1041.3,406 1042,407.7 1042.7,406 1043.4,406.8 1044.1,407.1 1044.8,406.7 1045.5,407 1046.2,408.6 1046.9,408.5 1047.6,409 1048.3,408.7 1049,411.1 1049.7,412.2 1050.4,409.7 1051.1,409.1 1051.8,411.6 1052.5,411.8 1053.2,412.5 1053.9,410 1054.6,410.8 1055.3,409.2 1056,411.3 1056.7,409.9 1057.4,409.6 1058.1,411.8 1058.8,411.6 1059.5,409.5 1060.2,410.7 1060.9,413.6 1061.6,409.4 1062.3,411.2 1063,413.4 1063.7,413.3 1064.4,412 1065.1,411.2 1065.8,412.3 1066.5,411.5 1067.2,412.4 1067.9,413.1 1068.6,412.3 1069.3,413.4 1070,413.5 1070.7,411.7 1071.4,412.3 1072.1,411.7 1072.8,413 1073.5,411.2 1074.2,411.9 1074.9,410.9 1075.6,413.3 1076.3,412.2 1077,414.2 1077.7,413.8 1078.4,413.6 1079.1,412.5 1079.8,411.9 1080.5,412.4 1081.2,413.4 1081.9,413.4 1082.6,413.4 1083.3,413.6 1084,414.9 1084.7,414.8 1085.4,412.7 1086.1,414.5 1086.8,413.2 1087.5,414.2 1088.2,414.3 1088.9,415 1089.6,414.9 1090.3,413.1 1091,414 1091.7,414.3 1092.4,413.6 1093.1,415.1 1093.8,412.3 1094.5,413.9 1095.2,413.5 1095.9,412.8 1096.6,413 1097.3,412.7 1098,413.1 1098.7,412.2 1099.4,412.3 1100.1,414.7 1100.8,411.9 1101.5,412.7 1102.2,413 1102.9,411.1 1103.6,412.5 1104.3,411 1105,409.2 1105.7,411.4 1106.4,408.6 1107.1,411.1 1107.8,411.7 1108.5,412.5 1109.2,411.4 1109.9,411.6 1110.6,410.9 1111.3,409.9 1112,409.4 1112.7,404.2 1113.4,393.4 1114.1,366 1114.8,317.8 1115.5,250.7 1116.2,182.3 1116.9,150 1117.6,169 1118.3,230.3 1119,302.4 1119.7,355.1 1120.4,388.2 1121.1,403.1 1121.8,408.4 1122.5,410.3 1123.2,412.5 1123.9,411.7 1124.6,411.5 1125.3,411.2 1126,411.6 1126.7,413.2 1127.4,411.6 1128.1,410.8 1128.8,411.8 1129.5,412.7 1130.2,413 1130.9,412.6 1131.6,413.4 1132.3,411.5 1133,411.8 1133.7,412.4 1134.4,412.7 1135.1,410.9 1135.8,412.7 1136.5,411.5 1137.2,413.8 1137.9,413.2 1138.6,414.4 1139.3,414.5 1140,413 1140.7,412 1141.4,411.1 1142.1,411.3 1142.8,412.7 1143.5,412.4 1144.2,412.5 1144.9,411.8 1145.6,413.4 1146.3,415.7 1147,414.4 1147.7,416.2 1148.4,413.3 1149.1,417 1149.8,415.1 1150.5,414.8 1151.2,415.8 1151.9,415.5 1152.6,417.7 1153.3,416 1154,416.1 1154.7,415.8 1155.4,417.1 1156.1,417.5 1156.8,417.3 1157.5,415.2 1158.2,416.4 1158.9,417.1 1159.6,414.9 1160.3,416.6 1161,417.6 1161.7,418.1 1162.4,417.3 1163.1,417.6 1163.8,417.7 1164.5,417.2 1165.2,415.3 1165.9,418.6 1166.6,417.7 1167.3,417 1168,416.4 1168.7,419.2 1169.4,417.5 1170.1,418 1170.8,416.9 1171.5,417.4 1172.2,417.2 1172.9,418.2 1173.6,415.6 1174.3,418.9 1175,417.3 1175.7,418 1176.4,418.2 1177.1,416.9 1177.8,418.1 1178.5,416.3 1179.2,417.6 1179.9,416.7 1180.6,418.3 1181.3,418.7 1182,416.3 1182.7,417.7 1183.4,416.8 1184.1,416.2 1184.8,417.4 1185.5,418.4 1186.2,418.5 1186.9,417 1187.6,417.2 1188.3,418.7 1189,417.4 1189.7,419 1190.4,419.1 1191.1,417.8 1191.8,416.6 1192.5,417 1193.2,417.9 1193.9,416.8 1194.6,416.9 1195.3,416.9 1196,414.3 1196.7,413.5 1197.4,410.2 1198.1,404.4 1198.8,398.4 1199.5,391.2 1200.2,388.2 1200.9,392.8 1201.6,399.5 1202.3,405.1 1203,410.2 1203.7,412.7 1204.4,414.2 1205.1,418.1 1205.8,417.2 1206.5,416.6 1207.2,416.3 1207.9,418.7 1208.6,417.5 1209.3,418.3 1210,418.7 1210.7,417.2 1211.4,416.7 1212.1,417.9 1212.8,418.5 1213.5,417.8 1214.2,417.9 1214.9,418.4 1215.6,417.2 1216.3,418.7 1217,418.9 1217.7,417.1 1218.4,417.3 1219.1,417.7 1219.8,417.5 1220.5,417.8 1221.2,419 1221.9,416.8 1222.6,418.4 1223.3,417.7 1224,417.4 1224.7,416.8 1225.4,416.2 1226.1,418.2 1226.8,419.4 1227.5,417.3 1228.2,418.8 1228.9,417 1229.6,418.6 1230.3,417.9 1231,417.8 1231.7,416.9 1232.4,417.7 1233.1,417.7 1233.8,419.3 1234.5,418.6 1235.2,418.4 1235.9,417.4 1236.6,418.1 1237.3,418.4 1238,418.7 1238.7,418 1239.4,418.1 1240.1,414.6 1240.8,410.4 1241.5,405.8 1242.2,396.5 1242.9,385.1 1243.6,377.6 1244.3,379.7 1245,388.5 1245.7,399.2 1246.4,408 1247.1,413.6 1247.8,414.9 1248.5,417.6 1249.2,417.9 1249.9,417.9 1250.6,418.5 1251.3,418.1 1252,418.8 1252.7,420 1253.4,418.4 1254.1,419.6 1254.8,418.4 1255.5,418.7 1256.2,419.2 1256.9,418.4 1257.6,419.9 1258.3,417.7 1259,418.9 1259.7,419.1 1260.4,419.2 1261.1,418.9 1261.8,418.2 1262.5,419.1 1263.2,420.3 1263.9,419.6 1264.6,419 1265.3,418 1266,418.3 1266.7,419.8 1267.4,418.6 1268.1,418.8 1268.8,421.2 1269.5,417 1270.2,419.9 1270.9,417 1271.6,417.9 1272.3,421.5 1273,420.1 1273.7,419.6 1274.4,419.8 1275.1,419.9 1275.8,418.5 1276.5,417.8 1277.2,418.3 1277.9,419.3 1278.6,419.4 1279.3,419.9 1280,418.9 1280.7,419.5 1281.4,418.8 1282.1,417.8 1282.8,418.3 1283.5,419 1284.2,418.5 1284.9,418 1285.6,418.2 1286.3,419.2 1287,416.7 1287.7,414 1288.4,413.9 1289.1,407.6 1289.8,404.7 1290.5,394.9 1291.2,388.4 1291.9,385.1 1292.6,388.5 1293.3,395.7 1294,404.4 1294.7,408.7 1295.4,413.5 1296.1,415.8 1296.8,417.1 1297.5,418.5 1298.2,416.5 1298.9,416.5 1299.6,418.6 1300.3,419 1301,419.2 1301.7,419.6 1302.4,420.2 1303.1,418 1303.8,418.6 1304.5,419.1 1305.2,419.5 1305.9,419.4 1306.6,419.3 1307.3,418.1 1308,421.1 1308.7,419 1309.4,419.4 1310.1,418.1 1310.8,419.3 1311.5,418.7 1312.2,420 1312.9,419.9 1313.6,418.5 1314.3,419.1 1315,419.1 1315.7,419.3 1316.4,420.3 1317.1,418.4 1317.8,421.5 1318.5,418.3 1319.2,417.8 1319.9,419.7 1320.6,417.8 1321.3,420.1 1322,419.2 1322.7,418.5 1323.4,419.5 1324.1,418.9 1324.8,418 1325.5,418.2 1326.2,420.3 1326.9,418.7 1327.6,418.7 1328.3,417.4 1329,420.1 1329.7,418.7 1330.4,417.7 1331.1,417.9 1331.8,417.2 1332.5,418.7 1333.2,418.1 1333.9,416.5 1334.6,416.5 1335.3,416.2 1336,416.5 1336.7,418.1 1337.4,415.6 1338.1,415.9 1338.8,415 1339.5,415 1340.2,415.5 1340.9,416.1 1341.6,414 1342.3,414.4 1343,414.5 1343.7,412.9 1344.4,413 1345.1,408 1345.8,401.6 1346.5,392.2 1347.2,382.3 1347.9,379.9 1348.6,381.7 1349.3,389.2 1350,398.3 1350.7,405.8 1351.4,411.7 1352.1,415.3 1352.8,417.7 1353.5,416.6 1354.2,418.1 1354.9,417.7 1355.6,417.6 1356.3,415.7 1357,411.9 1357.7,409.2 1358.4,401.4 1359.1,390.4 1359.8,383.2 1360.5,379.4 1361.2,385.4 1361.9,393.3 1362.6,401.4 1363.3,408.7 1364,414.6 1364.7,417 1365.4,418.9 1366.1,418.8 1366.8,418.5 1367.5,417.9 1368.2,418.6 1368.9,418.6 1369.6,420.2 1370.3,420.9 1371,422 1371.7,420.8 1372.4,422.6 1373.1,422.3 1373.8,420.7 1374.5,420.4 1375.2,421.2 1375.9,420.6 1376.6,420.8 1377.3,421.3 1378,421.9 1378.7,419.8 1379.4,421.8 1380.1,421.8 1380.8,422.5 1381.5,420.9 1382.2,422.3 1382.9,420.9 1383.6,421 1384.3,421.1 1385,422 1385.7,421.6 1386.4,423 1387.1,422.3 1387.8,421.7 1388.5,422.9 1389.2,423.5 1389.9,422.1 1390.6,423.7 1391.3,422.3 1392,422.4 1392.7,421.1 1393.4,423 1394.1,423 1394.8,422.3 1395.5,423 1396.2,424 1396.9,423.7 1397.6,421.3 1398.3,421.9 1399,423.3 1399.7,422.9 1400.4,423.1 1401.1,420.7 1401.8,422.9 1402.5,422.7 1403.2,421.7 1403.9,423.6 1404.6,422.9 1405.3,423.2 1406,423.7 1406.7,422 1407.4,422.6 1408.1,422.2 1408.8,423.3 1409.5,423.1 1410.2,421.3 1410.9,421.6 1411.6,421.4 1412.3,422.5 1413,421.2 1413.7,421.4 1414.4,423.5 1415.1,421.5 1415.8,422.8 1416.5,420.4 1417.2,423 1417.9,421.1 1418.6,423.6 1419.3,422.6 1420,422.9 1420.7,421.5 1421.4,422.7 1422.1,421.9 1422.8,423.2 1423.5,422 1424.2,422.1 1424.9,421.6 1425.6,422 1426.3,423.1 1427,422.1 1427.7,422.7 1428.4,419.9 1429.1,423.2 1429.8,421.1 1430.5,420.6 1431.2,422.4 1431.9,420.6 1432.6,423.8 1433.3,422.2 1434,422.2 1434.7,423 1435.4,422.1 1436.1,422.4 1436.8,422.5 1437.5,424.1 1438.2,423 1438.9,421.9 1439.6,422.5 1440.3,420.7 1441,423.5 1441.7,421.2 1442.4,421.8 1443.1,422.2 1443.8,422.6 1444.5,421.6 1445.2,421.6 1445.9,421.6 1446.6,420 1447.3,421.7 1448,422.8 1448.7,423.2 1449.4,421.6 1450.1,421.3 1450.8,423.1 1451.5,421.9 1452.2,423.4 1452.9,421.5 1453.6,422.5 1454.3,422.1 1455,422.3 1455.7,422.9 1456.4,422.3 1457.1,422 1457.8,422 1458.5,423.4 1459.2,422.4 1459.9,421.3 1460.6,419.1 1461.3,419.3 1462,416.3 1462.7,413.8 1463.4,414.8 1464.1,415.3 1464.8,418 1465.5,420 1466.2,420.8 1466.9,421 1467.6,421.6 1468.3,424 1469,420.4 1469.7,419 1470.4,417.2 1471.1,413.6 1471.8,410.3 1472.5,406.2 1473.2,405.6 1473.9,407.1 1474.6,411.6 1475.3,414.9 1476,418.5 1476.7,420.8 1477.4,419.3 1478.1,422.4 1478.8,422.4 1479.5,422.2 1480.2,423 1480.9,422.5 1481.6,423.8 1482.3,423.7 1483,422.1 1483.7,424.1 1484.4,422 1485.1,423.9 1485.8,425.2 1486.5,424.7 1487.2,422.6 1487.9,425 1488.6,425.3 1489.3,424 1490,424 1490.7,425.5 1491.4,424.2 1492.1,422.6 1492.8,423.8 1493.5,424 1494.2,424.6 1494.9,425.8 1495.6,424.7 1496.3,425.1 1497,422.9 1497.7,423.4 1498.4,424.3 1499.1,424.6 1499.8,426.3 1500.5,425.7 1501.2,423.2 1501.9,424.7 1502.6,422.9 1503.3,423 1504,423.1 1504.7,422.7 1505.4,422.6 1506.1,421.6 1506.8,422.5 1507.5,421.2 1508.2,420.9 1508.9,420.2 1509.6,420.5 1510.3,419.3 1511,418.8 1511.7,420.2 1512.4,419.5 1513.1,418.8 1513.8,417.7 1514.5,415.7 1515.2,414.1 1515.9,415.1 1516.6,413.6 1517.3,414.3 1518,414.7 1518.7,416.6 1519.4,416 1520.1,418.9 1520.8,416.9 1521.5,419.5 1522.2,420.7 1522.9,420 1523.6,420.1 1524.3,419.3 1525,421.1 1525.7,420.5 1526.4,421.3 1527.1,421.4 1527.8,420.9 1528.5,420.8 1529.2,422.2 1529.9,422.3 1530.6,422.2 1531.3,422.6 1532,421.9 1532.7,422.7 1533.4,423.5 1534.1,423.2 1534.8,420.8 1535.5,423.3 1536.2,422.6 1536.9,422.8 1537.6,423.2 1538.3,424.4 1539,421.2 1539.7,422.1 1540.4,424.4 1541.1,422 1541.8,423.8 1542.5,423.1 1543.2,420.5 1543.9,420.4 1544.6,420.8 1545.3,421.1 1546,419.5 1546.7,420 1547.4,419.9 1548.1,422.7 1548.8,419.9 1549.5,422.3 1550.2,423.3 1550.9,423.2 1551.6,422.8 1552.3,423.8 1553,422.9 1553.7,422.7 1554.4,425.4 1555.1,425.3 1555.8,422.9 1556.5,423.6 1557.2,424.8 1557.9,423.5 1558.6,423.2 1559.3,423.2 1560,421.5 1560.7,422.8 1561.4,421.1 1562.1,420.4 1562.8,417.7 1563.5,417 1564.2,414.8 1564.9,413.3 1565.6,414.2 1566.3,412.4 1567,416.1 1567.7,416.4 1568.4,418.6 1569.1,422.8 1569.8,422.6 1570.5,423.5 1571.2,421.7 1571.9,422.3 1572.6,424.1 1573.3,423.8 1574,424.3 1574.7,423.2 1575.4,422.8 1576.1,421.9 1576.8,420.4 1577.5,418.2 1578.2,419.7 1578.9,418.7 1579.6,419.8 1580.3,420.9 1581,422.7 1581.7,422.7 1582.4,422.4 1583.1,423.9 1583.8,424.9 1584.5,423.7 1585.2,425.4 1585.9,424.1 1586.6,424.6 1587.3,425.9 1588,425.3 1588.7,427.7 1589.4,423.7 1590.1,424.5 1590.8,425.2 1591.5,424.2 1592.2,423.8 1592.9,424.9 1593.6,424.4 1594.3,424.3 1595,424.1 1595.7,424.9 1596.4,424.6 1597.1,424.6 1597.8,424.1 1598.5,424.2 1599.2,423.5 1599.9,425 1600.6,424.6 1601.3,424.2 1602,424.7 1602.7,425.2 1603.4,425.3 1604.1,424.7 1604.8,425.5 1605.5,425.7 1606.2,423.2 1606.9,423.9 1607.6,425.5 1608.3,425.1 1609,425.5 1609.7,425.9 1610.4,424 1611.1,425.2 1611.8,425.9 1612.5,424 1613.2,426.3 1613.9,423.2 1614.6,424.6 1615.3,427 1616,424.6 1616.7,425.1 1617.4,425.3 1618.1,424.7 1618.8,425.6 1619.5,425 1620.2,424.3 1620.9,427.2 1621.6,425.5 1622.3,424.2 1623,423.2 1623.7,424.6 1624.4,425.4 1625.1,423.7 1625.8,424.5 1626.5,424.9 1627.2,425 1627.9,426.2 1628.6,423.5 1629.3,424.1 1630,426.8 1630.7,423.5 1631.4,425"/>
<polyline stroke="#f00" points="867,442.1 867.7,442.7 868.4,441.1 869.1,442.3 869.8,443 870.5,441.7 871.2,442.4 871.9,441 872.6,442.5 873.3,441.5 874,441.3 874.7,441.6 875.4,440.4 876.1,440.3 876.8,441.8 877.5,441.6 878.2,441.4 878.9,440.2 879.6,441.7 880.3,441.2 881,440.2 881.7,442.4 882.4,443.5 883.1,441.6 883.8,440.8 884.5,439.4 885.2,442.4 885.9,441.6 886.6,442.3 887.3,443.2 888,440.9 888.7,441.5 889.4,442.8 890.1,440.5 890.8,442.3 891.5,441.3 892.2,440.8 892.9,441.3 893.6,441.8 894.3,441.1 895,441.4 895.7,441.7 896.4,441.8 897.1,440.7 897.8,441.2 898.5,439.1 899.2,439.9 899.9,440.2 900.6,440.5 901.3,440.6 902,439.9 902.7,441.3 903.4,441.7 904.1,442.1 904.8,440.9 905.5,441.2 906.2,441.4 906.9,442.2 907.6,440.3 908.3,441.3 909,439.5 909.7,439.6 910.4,439.5 911.1,441.1 911.8,440.4 912.5,440.6 913.2,439.7 913.9,440.4 914.6,442.1 915.3,439 916,439.3 916.7,441.2 917.4,439.4 918.1,440.3 918.8,440.4 919.5,438.8 920.2,439.9 920.9,440.1 921.6,440.5 922.3,440.6 923,440.1 923.7,440 924.4,439.9 925.1,440 925.8,440.6 926.5,439.2 927.2,437.3 927.9,440.2 928.6,439.8 929.3,441.9 930,438.7 930.7,440.1 931.4,440.3 932.1,438.8 932.8,439.4 933.5,438.6 934.2,440 934.9,439.4 935.6,439.7 936.3,439.8 937,439.6 937.7,440.4 938.4,440 939.1,439 939.8,438.5 940.5,439.6 941.2,437.8 941.9,438.7 942.6,440.2 943.3,440.1 944,441.3 944.7,439.1 945.4,439.3 946.1,440.2 946.8,440.6 947.5,438.4 948.2,440.4 948.9,439.7 949.6,441.1 950.3,439.7 951,439.2 951.7,439.1 952.4,439.3 953.1,439.2 953.8,438.1 954.5,439.9 955.2,439.1 955.9,440.9 956.6,440.6 957.3,439.4 958,439.7 958.7,440.4 959.4,441.2 960.1,441.1 960.8,441 961.5,440.3 962.2,441 962.9,439.3 963.6,440.9 964.3,440.4 965,440.3 965.7,440.5 966.4,440 967.1,440.3 967.8,442 968.5,440.3 969.2,439.7 969.9,441.4 970.6,440.6 971.3,440.5 972,442.3 972.7,441.1 973.4,441.7 974.1,441.5 974.8,442.8 975.5,442 976.2,440.1 976.9,443 977.6,441.1 978.3,441.2 979,442.3 979.7,441.6 980.4,441.4 981.1,441.4 981.8,441.5 982.5,442.8 983.2,442.2 983.9,443.1 984.6,443.6 985.3,442.7 986,441.3 986.7,442.2 987.4,442.6 988.1,441.1 988.8,442.2 989.5,441.3 990.2,443.3 990.9,440.6 991.6,441.7 992.3,442.1 993,441.9 993.7,440.8 994.4,442.1 995.1,441.2 995.8,442.4 996.5,441.1 997.2,441.6 997.9,439.2 998.6,440.7 999.3,440.5 1000,439.4 1000.7,438.1 1001.4,440.6 1002.1,440.9 1002.8,439.1 1003.5,440.3 1004.2,440 1004.9,438.7 1005.6,438.5 1006.3,441.3 1007,439.3 1007.7,438.9 1008.4,438.1 1009.1,436.9 1009.8,438.3 1010.5,437.7 1011.2,438 1011.9,437.5 1012.6,435.7 1013.3,436.8 1014,437.1 1014.7,436.5 1015.4,436.8 1016.1,436.7 1016.8,436.1 1017.5,435.6 1018.2,437.2 1018.9,435.7 1019.6,435.5 1020.3,435.5 1021,435 1021.7,432.8 1022.4,433.9 1023.1,434.2 1023.8,434.2 1024.5,433.6 1025.2,432.3 1025.9,432.7 1026.6,433.1 1027.3,432.6 1028,434.6 1028.7,432.4 1029.4,432 1030.1,430.9 1030.8,428.6 1031.5,430.1 1032.2,426 1032.9,423.3 1033.6,416.2 1034.3,411.6 1035,411.8 1035.7,414.2 1036.4,419.2 1037.1,426.8 1037.8,431 1038.5,433.5 1039.2,434.5 1039.9,435.9 1040.6,435.5 1041.3,436.7 1042,437.9 1042.7,434.9 1043.4,438.6 1044.1,439.5 1044.8,440.3 1045.5,439 1046.2,440.1 1046.9,440 1047.6,439.6 1048.3,441.1 1049,442 1049.7,442.3 1050.4,440.1 1051.1,441.7 1051.8,441.8 1052.5,442.1 1053.2,440.8 1053.9,443.9 1054.6,440.9 1055.3,441.5 1056,443.9 1056.7,442.7 1057.4,441.9 1058.1,442 1058.8,443.3 1059.5,442.2 1060.2,443.5 1060.9,443.4 1061.6,443.3 1062.3,443.8 1063,442.6 1063.7,441.9 1064.4,441.8 1065.1,443.3 1065.8,442.7 1066.5,444.9 1067.2,442.7 1067.9,445 1068.6,443.6 1069.3,443.8 1070,442.1 1070.7,443.8 1071.4,445.2 1072.1,442.6 1072.8,445.1 1073.5,444.7 1074.2,444.8 1074.9,443.2 1075.6,445.5 1076.3,443.1 1077,445.6 1077.7,445.2 1078.4,442.7 1079.1,445.6 1079.8,445.9 1080.5,444.2 1081.2,443 1081.9,444.2 1082.6,444.2 1083.3,445.2 1084,443.6 1084.7,443.7 1085.4,444.7 1086.1,444.9 1086.8,443 1087.5,445 1088.2,444.2 1088.9,444.3 1089.6,445.3 1090.3,445.3 1091,445.1 1091.7,446.1 1092.4,444.7 1093.1,444.4 1093.8,444.6 1094.5,445.5 1095.2,444.7 1095.9,444.3 1096.6,444.8 1097.3,442.5 1098,444.6 1098.7,444.3 1099.4,443.3 1100.1,442.1 1100.8,441.9 1101.5,441.3 1102.2,443.4 1102.9,442.9 1103.6,442.1 1104.3,443.6 1105,441.8 1105.7,443.5 1106.4,443.2 1107.1,442.8 1107.8,441.2 1108.5,441.1 1109.2,441.9 1109.9,442.6 1110.6,440.4 1111.3,441.1 1112,440.6 1112.7,435 1113.4,428.5 1114.1,402.7 1114.8,355.6 1115.5,285.3 1116.2,207 1116.9,154.9 1117.6,159.6 1118.3,217.3 1119,295.3 1119.7,365.3 1120.4,408.2 1121.1,429.5 1121.8,435.8 1122.5,439.7 1123.2,441.5 1123.9,441.4 1124.6,440.1 1125.3,442.3 1126,443.9 1126.7,443.2 1127.4,442.3 1128.1,441.4 1128.8,443.5 1129.5,443.2 1130.2,442.5 1130.9,442.6 1131.6,443.7 1132.3,442.9 1133,442.5 1133.7,442.1 1134.4,442.8 1135.1,442.9 1135.8,442.9 1136.5,447.3 1137.2,442.3 1137.9,441.9 1138.6,442.6 1139.3,443.8 1140,444.4 1140.7,440.7 1141.4,441.3 1142.1,442 1142.8,440.8 1143.5,442.1 1144.2,441.8 1144.9,443.8 1145.6,443.6 1146.3,445.7 1147,443.6 1147.7,446.3 1148.4,445.4 1149.1,447.1 1149.8,445.8 1150.5,447.2 1151.2,447.5 1151.9,446.9 1152.6,445.8 1153.3,446.3 1154,446.5 1154.7,446.8 1155.4,448 1156.1,446.1 1156.8,447.1 1157.5,447.4 1158.2,447.5 1158.9,446.7 1159.6,448.8 1160.3,447.6 1161,447 1161.7,447.7 1162.4,448.9 1163.1,448.5 1163.8,449.1 1164.5,448.6 1165.2,447.8 1165.9,447 1166.6,447.6 1167.3,448.4 1168,447 1168.7,448.3 1169.4,447.9 1170.1,449.7 1170.8,446.9 1171.5,450.7 1172.2,449.4 1172.9,448.3 1173.6,448.8 1174.3,450.1 1175,449.3 1175.7,448.4 1176.4,448.2 1177.1,447.4 1177.8,449 1178.5,449.4 1179.2,448.6 1179.9,448.7 1180.6,448 1181.3,448.8 1182,449.1 1182.7,447.6 1183.4,449.3 1184.1,448.4 1184.8,449.1 1185.5,448.7 1186.2,448.9 1186.9,448.8 1187.6,449.3 1188.3,447.9 1189,448.5 1189.7,447.5 1190.4,448.6 1191.1,449.4 1191.8,448.2 1192.5,449.2 1193.2,447.8 1193.9,448.4 1194.6,448.9 1195.3,447.7 1196,447.1 1196.7,446.4 1197.4,442.8 1198.1,438.5 1198.8,431.4 1199.5,425.3 1200.2,424.2 1200.9,425 1201.6,432.5 1202.3,437 1203,442.3 1203.7,445.5 1204.4,445.3 1205.1,448.6 1205.8,447.2 1206.5,447.2 1207.2,446.6 1207.9,446.1 1208.6,446 1209.3,446.7 1210,448.1 1210.7,447.2 1211.4,448.7 1212.1,447 1212.8,446.5 1213.5,448.3 1214.2,447.8 1214.9,446.8 1215.6,449.3 1216.3,448.4 1217,447 1217.7,447.8 1218.4,447.5 1219.1,449.3 1219.8,447.9 1220.5,447.9 1221.2,448.8 1221.9,449.9 1222.6,449.8 1223.3,448.6 1224,448.4 1224.7,448.2 1225.4,449.6 1226.1,447.9 1226.8,448.8 1227.5,449.5 1228.2,448.3 1228.9,446.9 1229.6,448.5 1230.3,448.3 1231,448.2 1231.7,448.6 1232.4,449.8 1233.1,447.8 1233.8,448.1 1234.5,449 1235.2,449.9 1235.9,448.4 1236.6,449.6 1237.3,449.9 1238,448.3 1238.7,448.7 1239.4,449.4 1240.1,448.4 1240.8,446.8 1241.5,445 1242.2,440.6 1242.9,433.8 1243.6,425 1244.3,417.3 1245,415 1245.7,421.2 1246.4,430.5 1247.1,438.2 1247.8,445.4 1248.5,446.6 1249.2,446.5 1249.9,450.2 1250.6,449.1 1251.3,450 1252,449.7 1252.7,450.9 1253.4,449.7 1254.1,450.8 1254.8,451.7 1255.5,451 1256.2,449.7 1256.9,452 1257.6,451.5 1258.3,450.5 1259,449.3 1259.7,450.8 1260.4,450.5 1261.1,451 1261.8,450.7 1262.5,452 1263.2,450.8 1263.9,450.3 1264.6,450.3 1265.3,450.9 1266,451.1 1266.7,449.5 1267.4,449.7 1268.1,451.4 1268.8,450.4 1269.5,451.5 1270.2,450.5 1270.9,450.1 1271.6,451 1272.3,450.8 1273,453 1273.7,452 1274.4,450.5 1275.1,450.8 1275.8,451.1 1276.5,451 1277.2,451.2 1277.9,450.5 1278.6,450.2 1279.3,449.1 1280,450.2 1280.7,451.3 1281.4,450.5 1282.1,450.5 1282.8,449 1283.5,448.3 1284.2,450.4 1284.9,449 1285.6,448.9 1286.3,446.9 1287,448.5 1287.7,445.9 1288.4,439.2 1289.1,435.2 1289.8,430.7 1290.5,428.7 1291.2,430.5 1291.9,434.1 1292.6,439.1 1293.3,443.9 1294,444.8 1294.7,447.8 1295.4,448.7 1296.1,449.4 1296.8,448.4 1297.5,448.8 1298.2,448.4 1298.9,449.4 1299.6,448.6 1300.3,451.7 1301,449.1 1301.7,450.8 1302.4,449.2 1303.1,449.4 1303.8,450.6 1304.5,449.6 1305.2,451.8 1305.9,450.3 1306.6,448.4 1307.3,451.2 1308,447.6 1308.7,449.8 1309.4,449.4 1310.1,450.2 1310.8,449.5 1311.5,449.8 1312.2,449.9 1312.9,450.9 1313.6,449.5 1314.3,450 1315,452.4 1315.7,452.2 1316.4,451.5 1317.1,450.5 1317.8,450 1318.5,450.6 1319.2,449.4 1319.9,451.6 1320.6,449.9 1321.3,448.6 1322,451.4 1322.7,451.7 1323.4,451.2 1324.1,450.9 1324.8,450.7 1325.5,451.6 1326.2,451.3 1326.9,448.7 1327.6,450.5 1328.3,449.9 1329,451.4 1329.7,449.6 1330.4,449.5 1331.1,448.3 1331.8,449.7 1332.5,449.9 1333.2,450.8 1333.9,449.3 1334.6,450.2 1335.3,451.1 1336,448.2 1336.7,450.1 1337.4,449 1338.1,447.2 1338.8,447.5 1339.5,447.4 1340.2,445.2 1340.9,445 1341.6,441.6 1342.3,440.8 1343,437.2 1343.7,437 1344.4,436.4 1345.1,437.1 1345.8,439.3 1346.5,443.2 1347.2,444 1347.9,443.8 1348.6,446.4 1349.3,448.8 1350,449.6 1350.7,448.7 1351.4,449.9 1352.1,449.6 1352.8,449.3 1353.5,449 1354.2,449.2 1354.9,449.7 1355.6,446.2 1356.3,447.4 1357,444.7 1357.7,440.8 1358.4,439.9 1359.1,437.2 1359.8,434.9 1360.5,436 1361.2,436.4 1361.9,439.9 1362.6,442.7 1363.3,444.4 1364,446.5 1364.7,447 1365.4,449 1366.1,450.8 1366.8,452 1367.5,449 1368.2,451 1368.9,450.9 1369.6,453 1370.3,451.4 1371,453.1 1371.7,449.4 1372.4,449.7 1373.1,451.5 1373.8,450.2 1374.5,449.7 1375.2,451.2 1375.9,451.3 1376.6,452 1377.3,453.4 1378,451.3 1378.7,451.7 1379.4,451.1 1380.1,452.7 1380.8,453.6 1381.5,453.7 1382.2,450.6 1382.9,453.2 1383.6,452.5 1384.3,452.3 1385,451.7 1385.7,452.3 1386.4,453.1 1387.1,453.5 1387.8,453.6 1388.5,452.2 1389.2,452.9 1389.9,452.1 1390.6,453.8 1391.3,453 1392,451.8 1392.7,454 1393.4,454.6 1394.1,451.5 1394.8,454.7 1395.5,453.5 1396.2,453 1396.9,451.1 1397.6,452 1398.3,452.3 1399,453.9 1399.7,453.1 1400.4,453.4 1401.1,453.4 1401.8,453.7 1402.5,453 1403.2,454.5 1403.9,451.3 1404.6,452.5 1405.3,453 1406,452.6 1406.7,454.6 1407.4,453 1408.1,451.7 1408.8,452.9 1409.5,453 1410.2,452.7 1410.9,452.9 1411.6,453 1412.3,454.2 1413,453.4 1413.7,453.9 1414.4,453.5 1415.1,454.7 1415.8,453.7 1416.5,453.9 1417.2,454.7 1417.9,454.9 1418.6,454.8 1419.3,453 1420,452.5 1420.7,456.2 1421.4,452.4 1422.1,453 1422.8,452.3 1423.5,453.8 1424.2,453.5 1424.9,451.3 1425.6,454.5 1426.3,452.9 1427,454.4 1427.7,454.2 1428.4,453.3 1429.1,454.2 1429.8,452.5 1430.5,453.2 1431.2,453 1431.9,453.3 1432.6,453.6 1433.3,453.2 1434,452.6 1434.7,453.6 1435.4,452.6 1436.1,453.7 1436.8,452.1 1437.5,451.7 1438.2,454.9 1438.9,451.6 1439.6,453.5 1440.3,454.2 1441,453.3 1441.7,453 1442.4,452.5 1443.1,452.5 1443.8,451.7 1444.5,452.9 1445.2,453.1 1445.9,451.2 1446.6,450.4 1447.3,455.1 1448,452.1 1448.7,451.3 1449.4,451.2 1450.1,452.9 1450.8,453.3 1451.5,451.2 1452.2,451.7 1452.9,452.5 1453.6,451.5 1454.3,452.2 1455,452.3 1455.7,452.6 1456.4,452.9 1457.1,452.2 1457.8,451.5 1458.5,450.9 1459.2,452.1 1459.9,451.3 1460.6,451.9 1461.3,452.1 1462,452.3 1462.7,453.2 1463.4,452.7 1464.1,452.6 1464.8,454 1465.5,452.5 1466.2,454.1 1466.9,452.4 1467.6,452.7 1468.3,451.1 1469,451.6 1469.7,449.9 1470.4,450.8 1471.1,448.4 1471.8,448.2 1472.5,446.5 1473.2,445 1473.9,444.5 1474.6,447.8 1475.3,448.9 1476,450.3 1476.7,452 1477.4,452.6 1478.1,452.7 1478.8,453.6 1479.5,452.9 1480.2,452.8 1480.9,453.3 1481.6,454.7 1482.3,454.4 1483,453.6 1483.7,454.4 1484.4,454.7 1485.1,453.2 1485.8,455.9 1486.5,453.9 1487.2,453.3 1487.9,454.5 1488.6,454.6 1489.3,455.7 1490,455.7 1490.7,454.2 1491.4,454.2 1492.1,454.4 1492.8,454.5 1493.5,454 1494.2,454.8 1494.9,456.1 1495.6,455.8 1496.3,454.8 1497,454 1497.7,455.8 1498.4,456.3 1499.1,454 1499.8,455.8 1500.5,456.9 1501.2,456.3 1501.9,455.7 1502.6,454.8 1503.3,454.1 1504,454.7 1504.7,455.2 1505.4,454.5 1506.1,454.4 1506.8,453.3 1507.5,452.9 1508.2,454.2 1508.9,452.7 1509.6,453.2 1510.3,451.7 1511,450.9 1511.7,452.1 1512.4,452.2 1513.1,449.3 1513.8,451.2 1514.5,452.3 1515.2,451.6 1515.9,450.6 1516.6,451.4 1517.3,451.5 1518,452 1518.7,448.7 1519.4,450 1520.1,449.1 1520.8,451.5 1521.5,449.9 1522.2,448.7 1522.9,450.6 1523.6,451.3 1524.3,452 1525,452.6 1525.7,451.8 1526.4,451.6 1527.1,453.4 1527.8,453.5 1528.5,453.5 1529.2,452.6 1529.9,455 1530.6,455.1 1531.3,455.8 1532,455.2 1532.7,454.8 1533.4,454.3 1534.1,454.9 1534.8,454.4 1535.5,455 1536.2,454.5 1536.9,456.1 1537.6,455 1538.3,455.5 1539,455.1 1539.7,454.7 1540.4,453 1541.1,454.2 1541.8,453.8 1542.5,454.7 1543.2,452.1 1543.9,453.2 1544.6,452.5 1545.3,451.4 1546,451.2 1546.7,452.3 1547.4,452.1 1548.1,454.6 1548.8,451 1549.5,452.9 1550.2,455.9 1550.9,454.9 1551.6,453 1552.3,452.9 1553,453.7 1553.7,453.7 1554.4,453.3 1555.1,454.4 1555.8,454.7 1556.5,453.8 1557.2,454.5 1557.9,453.9 1558.6,454.8 1559.3,452.6 1560,453.3 1560.7,453 1561.4,453.1 1562.1,450.9 1562.8,451.6 1563.5,450.3 1564.2,452 1564.9,452 1565.6,452.9 1566.3,452 1567,454.2 1567.7,452.7 1568.4,452.1 1569.1,453.3 1569.8,454.3 1570.5,455.6 1571.2,454.3 1571.9,454.4 1572.6,455.6 1573.3,454 1574,456 1574.7,455.7 1575.4,454.3 1576.1,455.2 1576.8,454.7 1577.5,454.5 1578.2,455.6 1578.9,455 1579.6,456.1 1580.3,455.4 1581,453.9 1581.7,455.5 1582.4,456 1583.1,455.6 1583.8,454.1 1584.5,454.8 1585.2,454.2 1585.9,455.2 1586.6,454.8 1587.3,456.3 1588,455.8 1588.7,457.8 1589.4,456 1590.1,454.3 1590.8,455.4 1591.5,457.2 1592.2,455.3 1592.9,455.8 1593.6,456.5 1594.3,457 1595,456.8 1595.7,455.7 1596.4,454.8 1597.1,455.3 1597.8,456.4 1598.5,454.5 1599.2,456 1599.9,457.3 1600.6,454.9 1601.3,456.6 1602,455.3 1602.7,455.3 1603.4,456.4 1604.1,456.6 1604.8,456 1605.5,456.5 1606.2,456.8 1606.9,457.7 1607.6,455.4 1608.3,455.3 1609,457.7 1609.7,456.9 1610.4,455.6 1611.1,456.7 1611.8,457.6 1612.5,455.9 1613.2,456.5 1613.9,457 1614.6,455.6 1615.3,455.2 1616,456.9 1616.7,456.2 1617.4,456.4 1618.1,455.5 1618.8,456.8 1619.5,457.1 1620.2,456.3 1620.9,456.3 1621.6,455.4 1622.3,455.7 1623,455.1 1623.7,456.3 1624.4,456.4 1625.1,455.6 1625.8,455.1 1626.5,456 1627.2,456.8 1627.9,457.4 1628.6,454.6 1629.3,456.3 1630,457.4 1630.7,455.5 1631.4,455.8"/>
<polyline stroke="#000" stroke-width="5" points="867,485.8 869.2,485.2 871.5,485.3 873.7,484.9 876,485 878.2,484.7 880.2,484.2 882.2,483.8 884.2,483.4 886.3,483.5 888.3,482.8 890.3,482.2 892.4,482.3 894.4,482.1 896.5,481.3 898.6,480.8 900.7,480.5 902.7,480.1 904.8,479.9 907.2,478.7 909.6,477.7 912.1,476.7 914.5,475.8 916.5,474.8 918.6,473.3 920.6,471.8 922.6,470.5 924.7,469.2 926.7,467.8 928.7,467.4 930.7,466.8 932.8,466.5 934.8,466.6 936.8,465.6 938.8,465.5 940.8,465.9 942.8,466.4 944.8,466.2 946.9,466.5 948.9,466.8 950.9,467.2 952.9,468.1 954.9,469.2 957,469.9 959,470.8 961,471 963,471.8 965,472.4 967.1,472.8 969.1,472.7 971.1,473 973.2,472.8 975.2,473.2 977.2,473.4 979.2,473.1 981.2,472.9 983.3,472.8 985.3,472.1 987.3,471.8 989.3,471.3 991.3,470.9 993.3,470.4 995.4,470 997.4,469.3 999.4,468.6 1001.4,467.5 1003.4,466 1005.5,464.9 1007.5,463.3 1009.5,462.6 1011.5,461 1013.9,458.3 1016.4,454.8 1018.8,451.4 1021.4,447.6 1024.1,444.1 1026.7,440.7 1029.4,443.2 1032.1,445.2 1034.1,449.2 1036.2,453.6 1038.2,457.7 1040.2,461.2 1042.2,464.7 1044.2,468.6 1046.6,469.8 1049.1,471.6 1051.5,473.3 1053.6,474.4 1055.8,475 1057.9,475.9 1060,476.4 1062,476.4 1064,476.6 1066,477.3 1068,477.3 1070,477.2 1072,477 1074,477.4 1076,477.6 1078,477.5 1080,478 1082,478.8 1084,479.5 1086,479.6 1088,480 1090.3,479.9 1092.7,479.7 1095,479.6 1098,478.5 1101,479.8 1103,480.5 1105,481 1107.1,481.1 1109.3,482 1111.4,481.9 1113.6,482.6 1115.7,482.5 1117.9,482.9 1120,483.6 1122,483.4 1124,484 1126,483.8 1128,483.7 1130,483.9 1132.1,484.3 1134.3,484.7 1136.4,485.1 1138.6,484.8 1140.7,485.2 1142.9,485.3 1145,486 1147,485.1 1149,484.8 1151,484.5 1153,484.4 1155,484.5 1157.1,484.4 1159.2,484.3 1161.2,484.4 1163.3,484.3 1165.4,483.8 1167.5,483.7 1169.6,484.2 1171.7,484 1173.8,483.4 1175.8,483.8 1177.9,483.6 1180,483.5 1182,483.9 1184,484.1 1186,484.4 1188,485 1190,485.4 1192,486.1 1194,485.9 1196,486.8 1198,486.6 1200,487 1202,487.7 1204,488 1206,488 1208,488.1 1210,488.4 1212,488.4 1214,488.8 1216,488.3 1218,488.5 1220,488.9 1222,488.3 1224,488.6 1226,488.9 1228,488.9 1230,488.4 1232,488.5 1234,488.5 1236,489.2 1238,488.7 1240,489.1 1242,489.2 1244,488.9 1246,488.9 1248,489.4 1250,489.2 1252,489 1254,489.3 1256,489.1 1258,489.1 1260,488.9 1262,489.5 1264,489.6 1266,489.5 1268,489.8 1270,489.2 1272,489.4 1274,489.6 1276,490 1278,490.1 1280,489.7 1282,489.7 1284,489.9 1286,490 1288,490.3 1290,489.9 1292,490.4 1294,490.4 1296,490.5 1298,490.5 1300,490.4 1302,490.3 1304,490.4 1306,490.4 1308,490.8 1310,490.4 1312,490.5 1314,490.9 1316,490.6 1318,490.6 1320,490.6 1322,491 1324,490.9 1326,491.4 1328,491.4 1330,491.6 1332,491.1 1334,491 1336,491.1 1338,491.4 1340,491.6 1342,491.5 1344,491.5 1346,491.7 1348,491.9 1350,492 1352,492.1 1354,492.3 1356,492.2 1358,491.9 1360,492.5 1362,492.2 1364,492.5 1366,492.4 1368,492.8 1370,492.5 1372,492.6 1374,492.6 1376,492.7 1378,493.3 1380,493.1 1382,493 1384,493.1 1386,493.6 1388,493.4 1390,493.3 1392,493.7 1394,493.7 1396,494 1398,493.5 1400,493.8 1402,494.1 1404,494.2 1406,494.3 1408.1,493.8 1410.1,494 1412.1,493.9 1414.2,494 1416.2,494.6 1418.2,494.4 1420.3,494.6 1422.3,494.3 1424.3,494.7 1426.4,494.4 1428.4,494.3 1430.4,494.7 1432.5,494.9 1434.5,494.4 1436.5,494.7 1438.5,494.8 1440.6,494.6 1442.6,494.7 1444.6,494.6 1446.7,494.7 1448.7,494.8 1450.7,495 1452.8,495.1 1454.8,494.8 1456.8,494.7 1458.9,495 1460.9,495.3 1462.9,495 1465,495.1 1467,495.1 1469,495.5 1471.1,495.4 1473.1,495.1 1475.1,495.1 1477.2,495.4 1479.2,495.5 1481.2,495.6 1483.3,495.2 1485.3,495.3 1487.3,495.7 1489.4,495.6 1491.4,495.5 1493.4,495.5 1495.5,496 1497.5,495.6 1499.5,495.8 1501.5,495.7 1503.6,495.8 1505.6,496.1 1507.6,496.2 1509.7,495.8 1511.7,495.7 1513.7,496.1 1515.8,495.8 1517.8,495.7 1519.8,496.3 1521.9,496 1523.9,496.3 1525.9,496.1 1528,496.4 1530,496.2 1532,496 1534.1,495.9 1536.1,496.3 1538.1,496.4 1540.2,496.6 1542.2,496.1 1544.2,496.5 1546.3,496.4 1548.3,496.5 1550.3,496.3 1552.4,496.4 1554.4,496.6 1556.4,496.9 1558.5,496.4 1560.5,496.7 1562.5,496.9 1564.5,497.1 1566.6,496.6 1568.6,496.6 1570.6,497.2 1572.7,497.2 1574.7,496.9 1576.7,496.6 1578.8,497.3 1580.8,496.9 1582.8,497.3 1584.9,497.2 1586.9,497.3 1588.9,496.9 1591,497.4 1593,497 1595.1,497.2 1597.1,497.5 1599.2,497.5 1601.2,497.1 1603.3,497.2 1605.3,497.3 1607.4,497.4 1609.4,497.4 1611.5,497.2 1613.5,497.3 1615.6,497.7 1617.6,497.9 1619.7,497.3 1621.7,497.7 1623.8,497.9 1625.8,497.4 1627.9,498 1629.9,497.5 1632,497.9"/>
</g>
<g clip-path="url(#c104)" fill="none" stroke-width="4.9" stroke-linejoin="round" stroke-linecap="round">
<polyline stroke="#f0f" points="1095.2,348.4 1095.9,348.4 1096.6,346.7 1097.3,348.8 1098,348.2 1098.7,348.6 1099.4,347.5 1100.1,349.1 1100.8,347.9 1101.5,347 1102.2,347.7 1102.9,347.7 1103.6,346.5 1104.3,347.8 1105,347 1105.7,347.2 1106.4,347.4 1107.1,348.7 1107.8,346.3 1108.5,345.8 1109.2,346.5 1109.9,345.9 1110.6,343.8 1111.3,346.9 1112,344.2 1112.7,338 1113.4,326.5 1114.1,298.5 1114.8,245.1 1115.5,171.4 1116.2,99.7 1116.9,64 1117.6,85.1 1118.3,150.2 1119,226.9 1119.7,285.4 1120.4,320.9 1121.1,338.5 1121.8,344.2 1122.5,346.9 1123.2,346.8 1123.9,347.3 1124.6,347.9 1125.3,346.1 1126,347.1 1126.7,348.7 1127.4,348.3 1128.1,347.4 1128.8,348.5 1129.5,349.8 1130.2,349.5 1130.9,347.3 1131.6,347.8 1132.3,346.6 1133,347.7 1133.7,347.1 1134.4,347.5 1135.1,348.4 1135.8,348 1136.5,348 1137.2,346.9 1137.9,348.9 1138.6,347.7 1139.3,346.4"/>
</g>
<rect x="929.4" y="321.5" width="11.6" height="11" fill="#000"/>
<rect x="1010.4" y="316.5" width="11.6" height="11" fill="#000"/>
<rect x="897.9" y="53" width="11.6" height="11.3" fill="#000"/>
<rect x="1387.2" y="2.5" width="239.9" height="192.9" fill="#fff" stroke="#1a1a1a" stroke-width="1.15"/>
<g stroke-width="4.5" stroke-linecap="round">
<line x1="1393.3" y1="20.4" x2="1450.6" y2="20.4" stroke="#f0f"/>
<line x1="1393.3" y1="60.2" x2="1450.6" y2="60.2" stroke="#00f"/>
<line x1="1393.3" y1="100" x2="1450.6" y2="100" stroke="#0f0"/>
<line x1="1393.3" y1="139.8" x2="1450.6" y2="139.8" stroke="#f00"/>
<line x1="1393.3" y1="179.6" x2="1450.6" y2="179.6" stroke="#000"/>
</g>
<rect x="866.4" y="2.1" width="766.5" height="537.6" fill="none" stroke="#000" stroke-width="2.3"/>
<g stroke="#000" stroke-width="2.2"><line x1="866.2" y1="539.7" x2="866.2" y2="550.3"/><line x1="993.9" y1="539.7" x2="993.9" y2="550.3"/><line x1="1121.5" y1="539.7" x2="1121.5" y2="550.3"/><line x1="1249.2" y1="539.7" x2="1249.2" y2="550.3"/><line x1="1376.8" y1="539.7" x2="1376.8" y2="550.3"/><line x1="1504.5" y1="539.7" x2="1504.5" y2="550.3"/><line x1="1632.1" y1="539.7" x2="1632.1" y2="550.3"/><line x1="930" y1="539.7" x2="930" y2="545.5"/><line x1="1057.7" y1="539.7" x2="1057.7" y2="545.5"/><line x1="1185.3" y1="539.7" x2="1185.3" y2="545.5"/><line x1="1313" y1="539.7" x2="1313" y2="545.5"/><line x1="1440.6" y1="539.7" x2="1440.6" y2="545.5"/><line x1="1568.3" y1="539.7" x2="1568.3" y2="545.5"/></g>
<text style="font-family:'Liberation Serif','Times New Roman',serif;font-weight:bold;font-size:28.4px" fill="#000" stroke="#000" stroke-width="0.5" stroke-linejoin="round" transform="translate(169.12,114.90) scale(0.9941,1)">3433</text>
<text style="font-family:'Liberation Serif','Times New Roman',serif;font-weight:bold;font-size:28.4px" fill="#f00" stroke="#f00" stroke-width="0.5" stroke-linejoin="round" transform="translate(212.92,348.90) scale(0.9879,1)">3406</text>
<text style="font-family:'Liberation Serif','Times New Roman',serif;font-weight:bold;font-size:28.4px" fill="#00f" stroke="#00f" stroke-width="0.5" stroke-linejoin="round" transform="translate(196.12,461.40) scale(0.9959,1)">3483</text>
<text style="font-family:'Liberation Serif','Times New Roman',serif;font-weight:bold;font-size:28.4px" fill="#000" stroke="#000" stroke-width="0.5" stroke-linejoin="round" transform="translate(471.12,295.30) scale(0.9808,1)">1794</text>
<text style="font-family:'Liberation Serif','Times New Roman',serif;font-weight:bold;font-size:28.4px" fill="#000" stroke="#000" stroke-width="0.5" stroke-linejoin="round" transform="translate(521.80,313.60) scale(0.9908,1)">1618</text>
<text style="font-family:'Liberation Serif','Times New Roman',serif;font-weight:bold;font-size:28.4px" fill="#000" stroke="#000" stroke-width="0.5" stroke-linejoin="round" transform="translate(735.92,304.90) scale(1.0346,1)">711</text>
<text style="font-family:'Liberation Serif','Times New Roman',serif;font-weight:bold;font-size:28.4px" fill="#000" stroke="#000" stroke-width="0.5" stroke-linejoin="round" transform="translate(692.54,474.20) scale(0.9693,1)">837</text>
<text style="font-family:'Liberation Serif','Times New Roman',serif;font-weight:bold;font-size:28.4px" fill="#000" stroke="#000" stroke-width="0.5" stroke-linejoin="round" transform="translate(565.88,543.00) scale(0.9993,1)">1466</text>
<text style="font-family:'Liberation Serif','Times New Roman',serif;font-weight:bold;font-size:33.9px" fill="#000" stroke="#000" stroke-width="0.5" stroke-linejoin="round" transform="translate(49.93,586.80) scale(0.9580,1)">4000</text>
<text style="font-family:'Liberation Serif','Times New Roman',serif;font-weight:bold;font-size:33.9px" fill="#000" stroke="#000" stroke-width="0.5" stroke-linejoin="round" transform="translate(150.28,586.80) scale(0.9580,1)">3500</text>
<text style="font-family:'Liberation Serif','Times New Roman',serif;font-weight:bold;font-size:33.9px" fill="#000" stroke="#000" stroke-width="0.5" stroke-linejoin="round" transform="translate(251.14,586.80) scale(0.9580,1)">3000</text>
<text style="font-family:'Liberation Serif','Times New Roman',serif;font-weight:bold;font-size:33.9px" fill="#000" stroke="#000" stroke-width="0.5" stroke-linejoin="round" transform="translate(352.00,586.80) scale(0.9580,1)">2500</text>
<text style="font-family:'Liberation Serif','Times New Roman',serif;font-weight:bold;font-size:33.9px" fill="#000" stroke="#000" stroke-width="0.5" stroke-linejoin="round" transform="translate(452.86,586.80) scale(0.9580,1)">2000</text>
<text style="font-family:'Liberation Serif','Times New Roman',serif;font-weight:bold;font-size:33.9px" fill="#000" stroke="#000" stroke-width="0.5" stroke-linejoin="round" transform="translate(552.96,586.80) scale(0.9580,1)">1500</text>
<text style="font-family:'Liberation Serif','Times New Roman',serif;font-weight:bold;font-size:33.9px" fill="#000" stroke="#000" stroke-width="0.5" stroke-linejoin="round" transform="translate(653.82,586.80) scale(0.9580,1)">1000</text>
<text style="font-family:'Liberation Serif','Times New Roman',serif;font-weight:bold;font-size:33.9px" fill="#000" stroke="#000" stroke-width="0.5" stroke-linejoin="round" transform="translate(763.56,586.80) scale(0.9580,1)">500</text>
<text style="font-family:'Liberation Sans',Arial,sans-serif;font-weight:bold;font-size:33.5px" fill="#000" stroke="#000" stroke-width="0.3" stroke-linejoin="round" transform="translate(848.68,580.00) scale(0.9640,1)">10</text>
<text style="font-family:'Liberation Sans',Arial,sans-serif;font-weight:bold;font-size:33.5px" fill="#000" stroke="#000" stroke-width="0.3" stroke-linejoin="round" transform="translate(976.84,580.00) scale(0.9640,1)">20</text>
<text style="font-family:'Liberation Sans',Arial,sans-serif;font-weight:bold;font-size:33.5px" fill="#000" stroke="#000" stroke-width="0.3" stroke-linejoin="round" transform="translate(1104.74,580.00) scale(0.9640,1)">30</text>
<text style="font-family:'Liberation Sans',Arial,sans-serif;font-weight:bold;font-size:33.5px" fill="#000" stroke="#000" stroke-width="0.3" stroke-linejoin="round" transform="translate(1232.64,580.00) scale(0.9640,1)">40</text>
<text style="font-family:'Liberation Sans',Arial,sans-serif;font-weight:bold;font-size:33.5px" fill="#000" stroke="#000" stroke-width="0.3" stroke-linejoin="round" transform="translate(1360.04,580.00) scale(0.9640,1)">50</text>
<text style="font-family:'Liberation Sans',Arial,sans-serif;font-weight:bold;font-size:33.5px" fill="#000" stroke="#000" stroke-width="0.3" stroke-linejoin="round" transform="translate(1487.44,580.00) scale(0.9640,1)">60</text>
<text style="font-family:'Liberation Sans',Arial,sans-serif;font-weight:bold;font-size:33.5px" fill="#000" stroke="#000" stroke-width="0.3" stroke-linejoin="round" transform="translate(1615.09,580.00) scale(0.9640,1)">70</text>
<text style="font-family:'Liberation Serif','Times New Roman',serif;font-weight:bold;font-size:42px" fill="#000" stroke="#000" stroke-width="0.5" stroke-linejoin="round" transform="translate(272.10,656.30) scale(0.9445,1)">Wavenumber (cm</text>
<text style="font-family:'Liberation Serif','Times New Roman',serif;font-weight:bold;font-size:24.8px" fill="#000" stroke="#000" stroke-width="0.5" stroke-linejoin="round" transform="translate(576.29,634.80) scale(0.9187,1)">-1</text>
<text style="font-family:'Liberation Serif','Times New Roman',serif;font-weight:bold;font-size:42px" fill="#000" stroke="#000" stroke-width="0.5" stroke-linejoin="round" transform="translate(595.36,656.30) scale(1.0218,1)">)</text>
<text style="font-family:'Liberation Serif','Times New Roman',serif;font-weight:bold;font-size:39px" fill="#000" stroke="#000" stroke-width="0.5" stroke-linejoin="round" transform="translate(1155.66,657.10) scale(1.0165,1)">2θ (degree)</text>
<text style="font-family:'Liberation Serif','Times New Roman',serif;font-weight:bold;font-size:40.6px" fill="#000" stroke="#000" stroke-width="0.5" stroke-linejoin="round" transform="translate(27.50,422.74) rotate(-90) scale(0.9780,1)">Intensity (a.u.)</text>
<text style="font-family:'Liberation Serif','Times New Roman',serif;font-weight:bold;font-size:40.6px" fill="#000" stroke="#000" stroke-width="0.5" stroke-linejoin="round" transform="translate(842.70,420.74) rotate(-90) scale(0.9748,1)">Intensity (a.u.)</text>
<text style="font-family:'Liberation Sans',Arial,sans-serif;font-weight:bold;font-size:33px" fill="#000" stroke="#000" stroke-width="0.3" stroke-linejoin="round" transform="translate(912.94,69.00) scale(1.0267,1)">-</text>
<text style="font-family:'Liberation Sans',Arial,sans-serif;font-weight:bold;font-size:32.7px" fill="#000" stroke="#000" stroke-width="0.3" stroke-linejoin="round" transform="translate(924.53,69.00) scale(0.9537,1)">Cellulose</text>
<text style="font-family:'Liberation Sans',Arial,sans-serif;font-weight:normal;font-size:38.2px" fill="#000" stroke="#000" stroke-width="0.35" stroke-linejoin="round" transform="translate(1168.50,106.44) rotate(-90) scale(1.0257,1)">(104)</text>
<text style="font-family:'Liberation Sans',Arial,sans-serif;font-weight:normal;font-size:38.2px" fill="#000" stroke="#000" stroke-width="0.35" stroke-linejoin="round" transform="translate(1219.00,294.91) rotate(-90) scale(1.0693,1)">(110)</text>
<text style="font-family:'Liberation Sans',Arial,sans-serif;font-weight:normal;font-size:38.2px" fill="#000" stroke="#000" stroke-width="0.35" stroke-linejoin="round" transform="translate(1263.00,271.60) rotate(-90) scale(1.0588,1)">(11-3)</text>
<text style="font-family:'Liberation Sans',Arial,sans-serif;font-weight:normal;font-size:38.2px" fill="#000" stroke="#000" stroke-width="0.35" stroke-linejoin="round" transform="translate(1309.30,295.93) rotate(-90) scale(1.0221,1)">(202)</text>
<text style="font-family:'Liberation Sans',Arial,sans-serif;font-weight:normal;font-size:38.2px" fill="#000" stroke="#000" stroke-width="0.35" stroke-linejoin="round" transform="translate(1358.20,313.94) rotate(-90) scale(1.0268,1)">(108)</text>
<text style="font-family:'Liberation Sans',Arial,sans-serif;font-weight:normal;font-size:38.2px" fill="#000" stroke="#000" stroke-width="0.35" stroke-linejoin="round" transform="translate(1389.70,312.90) rotate(-90) scale(1.0599,1)">(11-6)</text>
<text style="font-family:'Liberation Sans',Arial,sans-serif;font-weight:normal;font-size:38.2px" fill="#000" stroke="#000" stroke-width="0.35" stroke-linejoin="round" transform="translate(1473.70,335.54) rotate(-90) scale(1.0268,1)">(122)</text>
<text style="font-family:'Liberation Sans',Arial,sans-serif;font-weight:normal;font-size:38.2px" fill="#000" stroke="#000" stroke-width="0.35" stroke-linejoin="round" transform="translate(1538.60,329.50) rotate(-90) scale(1.0038,1)">(12-4)</text>
<text style="font-family:'Liberation Sans',Arial,sans-serif;font-weight:normal;font-size:38.2px" fill="#000" stroke="#000" stroke-width="0.35" stroke-linejoin="round" transform="translate(1593.80,337.91) rotate(-90) scale(1.0116,1)">(300)</text>
<text style="font-family:'Liberation Serif','Times New Roman',serif;font-weight:bold;font-size:24.8px" fill="#000" stroke="#000" stroke-width="0.5" stroke-linejoin="round" transform="translate(333.32,452.90) scale(0.9873,1)">NLC</text>
<text style="font-family:'Liberation Serif','Times New Roman',serif;font-weight:bold;font-size:24.8px" fill="#000" stroke="#000" stroke-width="0.5" stroke-linejoin="round" transform="translate(333.33,481.90) scale(0.9677,1)">NLC/PMMA/CaCO</text>
<text style="font-family:'Liberation Serif','Times New Roman',serif;font-weight:bold;font-size:14.5px" fill="#000" stroke="#000" stroke-width="0.5" stroke-linejoin="round" transform="translate(539.36,490.80) scale(0.9773,1)">3</text>
<text style="font-family:'Liberation Serif','Times New Roman',serif;font-weight:bold;font-size:24.8px" fill="#000" stroke="#000" stroke-width="0.5" stroke-linejoin="round" transform="translate(332.94,519.10) scale(0.9959,1)">CaCO</text>
<text style="font-family:'Liberation Serif','Times New Roman',serif;font-weight:bold;font-size:14.5px" fill="#000" stroke="#000" stroke-width="0.5" stroke-linejoin="round" transform="translate(398.54,528.60) scale(1.0089,1)">3</text>
<text style="font-family:'Liberation Serif','Times New Roman',serif;font-weight:bold;font-size:25.7px" fill="#000" stroke="#000" stroke-width="0.5" stroke-linejoin="round" transform="translate(1456.78,30.00) scale(1.0039,1)">11wt.% CaCO</text>
<text style="font-family:'Liberation Serif','Times New Roman',serif;font-weight:bold;font-size:15.2px" fill="#000" stroke="#000" stroke-width="0.5" stroke-linejoin="round" transform="translate(1616.21,39.70) scale(1.0376,1)">3</text>
<text style="font-family:'Liberation Serif','Times New Roman',serif;font-weight:bold;font-size:25.7px" fill="#000" stroke="#000" stroke-width="0.5" stroke-linejoin="round" transform="translate(1458.01,69.60) scale(0.9887,1)">8wt.% CaCO</text>
<text style="font-family:'Liberation Serif','Times New Roman',serif;font-weight:bold;font-size:15.2px" fill="#000" stroke="#000" stroke-width="0.5" stroke-linejoin="round" transform="translate(1603.21,79.30) scale(1.0376,1)">3</text>
<text style="font-family:'Liberation Serif','Times New Roman',serif;font-weight:bold;font-size:25.7px" fill="#000" stroke="#000" stroke-width="0.5" stroke-linejoin="round" transform="translate(1458.01,109.20) scale(0.9887,1)">5wt.% CaCO</text>
<text style="font-family:'Liberation Serif','Times New Roman',serif;font-weight:bold;font-size:15.2px" fill="#000" stroke="#000" stroke-width="0.5" stroke-linejoin="round" transform="translate(1603.21,118.90) scale(1.0376,1)">3</text>
<text style="font-family:'Liberation Serif','Times New Roman',serif;font-weight:bold;font-size:25.7px" fill="#000" stroke="#000" stroke-width="0.5" stroke-linejoin="round" transform="translate(1458.01,148.80) scale(0.9894,1)">2wt.% CaCO</text>
<text style="font-family:'Liberation Serif','Times New Roman',serif;font-weight:bold;font-size:15.2px" fill="#000" stroke="#000" stroke-width="0.5" stroke-linejoin="round" transform="translate(1603.61,158.50) scale(1.0376,1)">3</text>
<text style="font-family:'Liberation Serif','Times New Roman',serif;font-weight:bold;font-size:25.7px" fill="#000" stroke="#000" stroke-width="0.5" stroke-linejoin="round" transform="translate(1459.00,189.10) scale(0.9843,1)">pure NLC</text>
</svg>
</body></html>
